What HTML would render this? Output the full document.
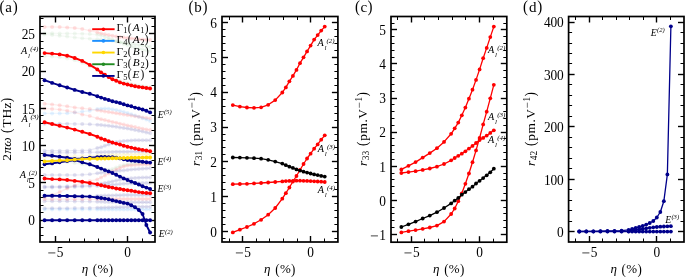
<!DOCTYPE html>
<html><head><meta charset="utf-8"><style>
html,body{margin:0;padding:0;background:#fff;}
body{width:685px;height:277px;overflow:hidden;}
svg{display:block;font-family:"Liberation Serif",serif;}
</style></head><body>
<svg width="685" height="277" viewBox="0 0 685 277">
<rect width="685" height="277" fill="#fff"/>
<polyline points="44.56,26.9 52.1,26.9 59.64,27.1 67.18,27.5 74.72,28 82.26,28.9 89.8,30.6 97.34,32.4 101.11,33.4 104.88,34.3 108.65,35.1 112.42,35.8 116.19,36.4 119.96,37 123.73,37.5 127.5,38 131.27,38.4 135.04,38.8 138.81,39.2 142.58,39.5 146.35,39.8 150.12,40" fill="none" stroke="#ff0000" stroke-width="1.4" stroke-linejoin="round" stroke-opacity="0.07"/>
<circle cx="44.56" cy="26.9" r="2.0" fill="#ff0000" fill-opacity="0.11"/>
<circle cx="52.1" cy="26.9" r="2.0" fill="#ff0000" fill-opacity="0.11"/>
<circle cx="59.64" cy="27.1" r="2.0" fill="#ff0000" fill-opacity="0.11"/>
<circle cx="67.18" cy="27.5" r="2.0" fill="#ff0000" fill-opacity="0.11"/>
<circle cx="74.72" cy="28" r="2.0" fill="#ff0000" fill-opacity="0.11"/>
<circle cx="82.26" cy="28.9" r="2.0" fill="#ff0000" fill-opacity="0.11"/>
<circle cx="89.8" cy="30.6" r="2.0" fill="#ff0000" fill-opacity="0.11"/>
<circle cx="97.34" cy="32.4" r="2.0" fill="#ff0000" fill-opacity="0.11"/>
<circle cx="101.11" cy="33.4" r="2.0" fill="#ff0000" fill-opacity="0.11"/>
<circle cx="104.88" cy="34.3" r="2.0" fill="#ff0000" fill-opacity="0.11"/>
<circle cx="108.65" cy="35.1" r="2.0" fill="#ff0000" fill-opacity="0.11"/>
<circle cx="112.42" cy="35.8" r="2.0" fill="#ff0000" fill-opacity="0.11"/>
<circle cx="116.19" cy="36.4" r="2.0" fill="#ff0000" fill-opacity="0.11"/>
<circle cx="119.96" cy="37" r="2.0" fill="#ff0000" fill-opacity="0.11"/>
<circle cx="123.73" cy="37.5" r="2.0" fill="#ff0000" fill-opacity="0.11"/>
<circle cx="127.5" cy="38" r="2.0" fill="#ff0000" fill-opacity="0.11"/>
<circle cx="131.27" cy="38.4" r="2.0" fill="#ff0000" fill-opacity="0.11"/>
<circle cx="135.04" cy="38.8" r="2.0" fill="#ff0000" fill-opacity="0.11"/>
<circle cx="138.81" cy="39.2" r="2.0" fill="#ff0000" fill-opacity="0.11"/>
<circle cx="142.58" cy="39.5" r="2.0" fill="#ff0000" fill-opacity="0.11"/>
<circle cx="146.35" cy="39.8" r="2.0" fill="#ff0000" fill-opacity="0.11"/>
<circle cx="150.12" cy="40" r="2.0" fill="#ff0000" fill-opacity="0.11"/>
<polyline points="44.56,33.2 52.1,33.3 59.64,33.4 67.18,33.5 74.72,33.6 82.26,33.8 89.8,34.1 97.34,34.8 101.11,35.6 104.88,36.7 108.65,38 112.42,39.5 116.19,41 119.96,42.5 123.73,44 127.5,45.3 131.27,46.5 135.04,47.6 138.81,48.6 142.58,49.5 146.35,50.3 150.12,51" fill="none" stroke="#228b22" stroke-width="1.4" stroke-linejoin="round" stroke-opacity="0.04"/>
<circle cx="44.56" cy="33.2" r="2.0" fill="#228b22" fill-opacity="0.06"/>
<circle cx="52.1" cy="33.3" r="2.0" fill="#228b22" fill-opacity="0.06"/>
<circle cx="59.64" cy="33.4" r="2.0" fill="#228b22" fill-opacity="0.06"/>
<circle cx="67.18" cy="33.5" r="2.0" fill="#228b22" fill-opacity="0.06"/>
<circle cx="74.72" cy="33.6" r="2.0" fill="#228b22" fill-opacity="0.06"/>
<circle cx="82.26" cy="33.8" r="2.0" fill="#228b22" fill-opacity="0.06"/>
<circle cx="89.8" cy="34.1" r="2.0" fill="#228b22" fill-opacity="0.06"/>
<circle cx="97.34" cy="34.8" r="2.0" fill="#228b22" fill-opacity="0.06"/>
<circle cx="101.11" cy="35.6" r="2.0" fill="#228b22" fill-opacity="0.06"/>
<circle cx="104.88" cy="36.7" r="2.0" fill="#228b22" fill-opacity="0.06"/>
<circle cx="108.65" cy="38" r="2.0" fill="#228b22" fill-opacity="0.06"/>
<circle cx="112.42" cy="39.5" r="2.0" fill="#228b22" fill-opacity="0.06"/>
<circle cx="116.19" cy="41" r="2.0" fill="#228b22" fill-opacity="0.06"/>
<circle cx="119.96" cy="42.5" r="2.0" fill="#228b22" fill-opacity="0.06"/>
<circle cx="123.73" cy="44" r="2.0" fill="#228b22" fill-opacity="0.06"/>
<circle cx="127.5" cy="45.3" r="2.0" fill="#228b22" fill-opacity="0.06"/>
<circle cx="131.27" cy="46.5" r="2.0" fill="#228b22" fill-opacity="0.06"/>
<circle cx="135.04" cy="47.6" r="2.0" fill="#228b22" fill-opacity="0.06"/>
<circle cx="138.81" cy="48.6" r="2.0" fill="#228b22" fill-opacity="0.06"/>
<circle cx="142.58" cy="49.5" r="2.0" fill="#228b22" fill-opacity="0.06"/>
<circle cx="146.35" cy="50.3" r="2.0" fill="#228b22" fill-opacity="0.06"/>
<circle cx="150.12" cy="51" r="2.0" fill="#228b22" fill-opacity="0.06"/>
<polyline points="44.56,34.4 52.1,35 59.64,35.8 67.18,36.6 74.72,37.4 82.26,38.2 89.8,38.8 97.34,39.3 101.11,39.6 104.88,39.9 108.65,40.3 112.42,40.8 116.19,41.4 119.96,42 123.73,42.6 127.5,43.2 131.27,43.8 135.04,44.4 138.81,45 142.58,45.6 146.35,46.2 150.12,46.8" fill="none" stroke="#228b22" stroke-width="1.4" stroke-linejoin="round" stroke-opacity="0.04"/>
<circle cx="44.56" cy="34.4" r="2.0" fill="#228b22" fill-opacity="0.06"/>
<circle cx="52.1" cy="35" r="2.0" fill="#228b22" fill-opacity="0.06"/>
<circle cx="59.64" cy="35.8" r="2.0" fill="#228b22" fill-opacity="0.06"/>
<circle cx="67.18" cy="36.6" r="2.0" fill="#228b22" fill-opacity="0.06"/>
<circle cx="74.72" cy="37.4" r="2.0" fill="#228b22" fill-opacity="0.06"/>
<circle cx="82.26" cy="38.2" r="2.0" fill="#228b22" fill-opacity="0.06"/>
<circle cx="89.8" cy="38.8" r="2.0" fill="#228b22" fill-opacity="0.06"/>
<circle cx="97.34" cy="39.3" r="2.0" fill="#228b22" fill-opacity="0.06"/>
<circle cx="101.11" cy="39.6" r="2.0" fill="#228b22" fill-opacity="0.06"/>
<circle cx="104.88" cy="39.9" r="2.0" fill="#228b22" fill-opacity="0.06"/>
<circle cx="108.65" cy="40.3" r="2.0" fill="#228b22" fill-opacity="0.06"/>
<circle cx="112.42" cy="40.8" r="2.0" fill="#228b22" fill-opacity="0.06"/>
<circle cx="116.19" cy="41.4" r="2.0" fill="#228b22" fill-opacity="0.06"/>
<circle cx="119.96" cy="42" r="2.0" fill="#228b22" fill-opacity="0.06"/>
<circle cx="123.73" cy="42.6" r="2.0" fill="#228b22" fill-opacity="0.06"/>
<circle cx="127.5" cy="43.2" r="2.0" fill="#228b22" fill-opacity="0.06"/>
<circle cx="131.27" cy="43.8" r="2.0" fill="#228b22" fill-opacity="0.06"/>
<circle cx="135.04" cy="44.4" r="2.0" fill="#228b22" fill-opacity="0.06"/>
<circle cx="138.81" cy="45" r="2.0" fill="#228b22" fill-opacity="0.06"/>
<circle cx="142.58" cy="45.6" r="2.0" fill="#228b22" fill-opacity="0.06"/>
<circle cx="146.35" cy="46.2" r="2.0" fill="#228b22" fill-opacity="0.06"/>
<circle cx="150.12" cy="46.8" r="2.0" fill="#228b22" fill-opacity="0.06"/>
<polyline points="44.56,56.1 52.1,56.6 59.64,57.3 67.18,58.4 74.72,60.3 82.26,63 89.8,66.5 97.34,70.5 101.11,72.8 104.88,74.8 108.65,76.6 112.42,78.2 116.19,79.6 119.96,80.9 123.73,82 127.5,83 131.27,83.9 135.04,84.7 138.81,85.4 142.58,86 146.35,86.6 150.12,87.1" fill="none" stroke="#228b22" stroke-width="1.4" stroke-linejoin="round" stroke-opacity="0.04"/>
<circle cx="44.56" cy="56.1" r="2.0" fill="#228b22" fill-opacity="0.06"/>
<circle cx="52.1" cy="56.6" r="2.0" fill="#228b22" fill-opacity="0.06"/>
<circle cx="59.64" cy="57.3" r="2.0" fill="#228b22" fill-opacity="0.06"/>
<circle cx="67.18" cy="58.4" r="2.0" fill="#228b22" fill-opacity="0.06"/>
<circle cx="74.72" cy="60.3" r="2.0" fill="#228b22" fill-opacity="0.06"/>
<circle cx="82.26" cy="63" r="2.0" fill="#228b22" fill-opacity="0.06"/>
<circle cx="89.8" cy="66.5" r="2.0" fill="#228b22" fill-opacity="0.06"/>
<circle cx="97.34" cy="70.5" r="2.0" fill="#228b22" fill-opacity="0.06"/>
<circle cx="101.11" cy="72.8" r="2.0" fill="#228b22" fill-opacity="0.06"/>
<circle cx="104.88" cy="74.8" r="2.0" fill="#228b22" fill-opacity="0.06"/>
<circle cx="108.65" cy="76.6" r="2.0" fill="#228b22" fill-opacity="0.06"/>
<circle cx="112.42" cy="78.2" r="2.0" fill="#228b22" fill-opacity="0.06"/>
<circle cx="116.19" cy="79.6" r="2.0" fill="#228b22" fill-opacity="0.06"/>
<circle cx="119.96" cy="80.9" r="2.0" fill="#228b22" fill-opacity="0.06"/>
<circle cx="123.73" cy="82" r="2.0" fill="#228b22" fill-opacity="0.06"/>
<circle cx="127.5" cy="83" r="2.0" fill="#228b22" fill-opacity="0.06"/>
<circle cx="131.27" cy="83.9" r="2.0" fill="#228b22" fill-opacity="0.06"/>
<circle cx="135.04" cy="84.7" r="2.0" fill="#228b22" fill-opacity="0.06"/>
<circle cx="138.81" cy="85.4" r="2.0" fill="#228b22" fill-opacity="0.06"/>
<circle cx="142.58" cy="86" r="2.0" fill="#228b22" fill-opacity="0.06"/>
<circle cx="146.35" cy="86.6" r="2.0" fill="#228b22" fill-opacity="0.06"/>
<circle cx="150.12" cy="87.1" r="2.0" fill="#228b22" fill-opacity="0.06"/>
<polyline points="44.56,103.7 52.1,104.4 59.64,105.3 67.18,106.3 74.72,107.5 82.26,108.3 89.8,109.1 97.34,110.2 101.11,110.8 104.88,111.4 108.65,112 112.42,112.6 116.19,113.2 119.96,113.8 123.73,114.4 127.5,115 131.27,115.6 135.04,116.2 138.81,116.8 142.58,117.4 146.35,118 150.12,118.6" fill="none" stroke="#ff0000" stroke-width="1.4" stroke-linejoin="round" stroke-opacity="0.07"/>
<circle cx="44.56" cy="103.7" r="2.0" fill="#ff0000" fill-opacity="0.11"/>
<circle cx="52.1" cy="104.4" r="2.0" fill="#ff0000" fill-opacity="0.11"/>
<circle cx="59.64" cy="105.3" r="2.0" fill="#ff0000" fill-opacity="0.11"/>
<circle cx="67.18" cy="106.3" r="2.0" fill="#ff0000" fill-opacity="0.11"/>
<circle cx="74.72" cy="107.5" r="2.0" fill="#ff0000" fill-opacity="0.11"/>
<circle cx="82.26" cy="108.3" r="2.0" fill="#ff0000" fill-opacity="0.11"/>
<circle cx="89.8" cy="109.1" r="2.0" fill="#ff0000" fill-opacity="0.11"/>
<circle cx="97.34" cy="110.2" r="2.0" fill="#ff0000" fill-opacity="0.11"/>
<circle cx="101.11" cy="110.8" r="2.0" fill="#ff0000" fill-opacity="0.11"/>
<circle cx="104.88" cy="111.4" r="2.0" fill="#ff0000" fill-opacity="0.11"/>
<circle cx="108.65" cy="112" r="2.0" fill="#ff0000" fill-opacity="0.11"/>
<circle cx="112.42" cy="112.6" r="2.0" fill="#ff0000" fill-opacity="0.11"/>
<circle cx="116.19" cy="113.2" r="2.0" fill="#ff0000" fill-opacity="0.11"/>
<circle cx="119.96" cy="113.8" r="2.0" fill="#ff0000" fill-opacity="0.11"/>
<circle cx="123.73" cy="114.4" r="2.0" fill="#ff0000" fill-opacity="0.11"/>
<circle cx="127.5" cy="115" r="2.0" fill="#ff0000" fill-opacity="0.11"/>
<circle cx="131.27" cy="115.6" r="2.0" fill="#ff0000" fill-opacity="0.11"/>
<circle cx="135.04" cy="116.2" r="2.0" fill="#ff0000" fill-opacity="0.11"/>
<circle cx="138.81" cy="116.8" r="2.0" fill="#ff0000" fill-opacity="0.11"/>
<circle cx="142.58" cy="117.4" r="2.0" fill="#ff0000" fill-opacity="0.11"/>
<circle cx="146.35" cy="118" r="2.0" fill="#ff0000" fill-opacity="0.11"/>
<circle cx="150.12" cy="118.6" r="2.0" fill="#ff0000" fill-opacity="0.11"/>
<polyline points="44.56,108.5 52.1,108.9 59.64,109.6 67.18,110.8 74.72,112.3 82.26,114.5 89.8,116.1 97.34,118.3 101.11,119.2 104.88,120.1 108.65,121 112.42,121.9 116.19,122.8 119.96,123.7 123.73,124.6 127.5,125.5 131.27,126.3 135.04,127.1 138.81,127.9 142.58,128.7 146.35,129.4 150.12,130.1" fill="none" stroke="#ff0000" stroke-width="1.4" stroke-linejoin="round" stroke-opacity="0.07"/>
<circle cx="44.56" cy="108.5" r="2.0" fill="#ff0000" fill-opacity="0.11"/>
<circle cx="52.1" cy="108.9" r="2.0" fill="#ff0000" fill-opacity="0.11"/>
<circle cx="59.64" cy="109.6" r="2.0" fill="#ff0000" fill-opacity="0.11"/>
<circle cx="67.18" cy="110.8" r="2.0" fill="#ff0000" fill-opacity="0.11"/>
<circle cx="74.72" cy="112.3" r="2.0" fill="#ff0000" fill-opacity="0.11"/>
<circle cx="82.26" cy="114.5" r="2.0" fill="#ff0000" fill-opacity="0.11"/>
<circle cx="89.8" cy="116.1" r="2.0" fill="#ff0000" fill-opacity="0.11"/>
<circle cx="97.34" cy="118.3" r="2.0" fill="#ff0000" fill-opacity="0.11"/>
<circle cx="101.11" cy="119.2" r="2.0" fill="#ff0000" fill-opacity="0.11"/>
<circle cx="104.88" cy="120.1" r="2.0" fill="#ff0000" fill-opacity="0.11"/>
<circle cx="108.65" cy="121" r="2.0" fill="#ff0000" fill-opacity="0.11"/>
<circle cx="112.42" cy="121.9" r="2.0" fill="#ff0000" fill-opacity="0.11"/>
<circle cx="116.19" cy="122.8" r="2.0" fill="#ff0000" fill-opacity="0.11"/>
<circle cx="119.96" cy="123.7" r="2.0" fill="#ff0000" fill-opacity="0.11"/>
<circle cx="123.73" cy="124.6" r="2.0" fill="#ff0000" fill-opacity="0.11"/>
<circle cx="127.5" cy="125.5" r="2.0" fill="#ff0000" fill-opacity="0.11"/>
<circle cx="131.27" cy="126.3" r="2.0" fill="#ff0000" fill-opacity="0.11"/>
<circle cx="135.04" cy="127.1" r="2.0" fill="#ff0000" fill-opacity="0.11"/>
<circle cx="138.81" cy="127.9" r="2.0" fill="#ff0000" fill-opacity="0.11"/>
<circle cx="142.58" cy="128.7" r="2.0" fill="#ff0000" fill-opacity="0.11"/>
<circle cx="146.35" cy="129.4" r="2.0" fill="#ff0000" fill-opacity="0.11"/>
<circle cx="150.12" cy="130.1" r="2.0" fill="#ff0000" fill-opacity="0.11"/>
<polyline points="44.56,113.4 52.1,113.4 59.64,113.4 67.18,113.2 74.72,112.6 82.26,111.6 89.8,110.7 97.34,109.1 101.11,108.7 104.88,108.6 108.65,108.8 112.42,109.3 116.19,110 119.96,110.9 123.73,111.9 127.5,113 131.27,114.2 135.04,115.5 138.81,116.8 142.58,118.2 146.35,119.6 150.12,121" fill="none" stroke="#1e90ff" stroke-width="1.4" stroke-linejoin="round" stroke-opacity="0.07"/>
<circle cx="44.56" cy="113.4" r="2.0" fill="#1e90ff" fill-opacity="0.11"/>
<circle cx="52.1" cy="113.4" r="2.0" fill="#1e90ff" fill-opacity="0.11"/>
<circle cx="59.64" cy="113.4" r="2.0" fill="#1e90ff" fill-opacity="0.11"/>
<circle cx="67.18" cy="113.2" r="2.0" fill="#1e90ff" fill-opacity="0.11"/>
<circle cx="74.72" cy="112.6" r="2.0" fill="#1e90ff" fill-opacity="0.11"/>
<circle cx="82.26" cy="111.6" r="2.0" fill="#1e90ff" fill-opacity="0.11"/>
<circle cx="89.8" cy="110.7" r="2.0" fill="#1e90ff" fill-opacity="0.11"/>
<circle cx="97.34" cy="109.1" r="2.0" fill="#1e90ff" fill-opacity="0.11"/>
<circle cx="101.11" cy="108.7" r="2.0" fill="#1e90ff" fill-opacity="0.11"/>
<circle cx="104.88" cy="108.6" r="2.0" fill="#1e90ff" fill-opacity="0.11"/>
<circle cx="108.65" cy="108.8" r="2.0" fill="#1e90ff" fill-opacity="0.11"/>
<circle cx="112.42" cy="109.3" r="2.0" fill="#1e90ff" fill-opacity="0.11"/>
<circle cx="116.19" cy="110" r="2.0" fill="#1e90ff" fill-opacity="0.11"/>
<circle cx="119.96" cy="110.9" r="2.0" fill="#1e90ff" fill-opacity="0.11"/>
<circle cx="123.73" cy="111.9" r="2.0" fill="#1e90ff" fill-opacity="0.11"/>
<circle cx="127.5" cy="113" r="2.0" fill="#1e90ff" fill-opacity="0.11"/>
<circle cx="131.27" cy="114.2" r="2.0" fill="#1e90ff" fill-opacity="0.11"/>
<circle cx="135.04" cy="115.5" r="2.0" fill="#1e90ff" fill-opacity="0.11"/>
<circle cx="138.81" cy="116.8" r="2.0" fill="#1e90ff" fill-opacity="0.11"/>
<circle cx="142.58" cy="118.2" r="2.0" fill="#1e90ff" fill-opacity="0.11"/>
<circle cx="146.35" cy="119.6" r="2.0" fill="#1e90ff" fill-opacity="0.11"/>
<circle cx="150.12" cy="121" r="2.0" fill="#1e90ff" fill-opacity="0.11"/>
<polyline points="44.56,123.7 52.1,123.7 59.64,123.7 67.18,123.8 74.72,123.9 82.26,124.1 89.8,124.3 97.34,124.7 101.11,125 104.88,125.4 108.65,125.8 112.42,126.3 116.19,126.8 119.96,127.4 123.73,128 127.5,128.6 131.27,129.3 135.04,130 138.81,130.8 142.58,131.6 146.35,132.4 150.12,133.2" fill="none" stroke="#00008b" stroke-width="1.4" stroke-linejoin="round" stroke-opacity="0.07"/>
<circle cx="44.56" cy="123.7" r="2.0" fill="#00008b" fill-opacity="0.11"/>
<circle cx="52.1" cy="123.7" r="2.0" fill="#00008b" fill-opacity="0.11"/>
<circle cx="59.64" cy="123.7" r="2.0" fill="#00008b" fill-opacity="0.11"/>
<circle cx="67.18" cy="123.8" r="2.0" fill="#00008b" fill-opacity="0.11"/>
<circle cx="74.72" cy="123.9" r="2.0" fill="#00008b" fill-opacity="0.11"/>
<circle cx="82.26" cy="124.1" r="2.0" fill="#00008b" fill-opacity="0.11"/>
<circle cx="89.8" cy="124.3" r="2.0" fill="#00008b" fill-opacity="0.11"/>
<circle cx="97.34" cy="124.7" r="2.0" fill="#00008b" fill-opacity="0.11"/>
<circle cx="101.11" cy="125" r="2.0" fill="#00008b" fill-opacity="0.11"/>
<circle cx="104.88" cy="125.4" r="2.0" fill="#00008b" fill-opacity="0.11"/>
<circle cx="108.65" cy="125.8" r="2.0" fill="#00008b" fill-opacity="0.11"/>
<circle cx="112.42" cy="126.3" r="2.0" fill="#00008b" fill-opacity="0.11"/>
<circle cx="116.19" cy="126.8" r="2.0" fill="#00008b" fill-opacity="0.11"/>
<circle cx="119.96" cy="127.4" r="2.0" fill="#00008b" fill-opacity="0.11"/>
<circle cx="123.73" cy="128" r="2.0" fill="#00008b" fill-opacity="0.11"/>
<circle cx="127.5" cy="128.6" r="2.0" fill="#00008b" fill-opacity="0.11"/>
<circle cx="131.27" cy="129.3" r="2.0" fill="#00008b" fill-opacity="0.11"/>
<circle cx="135.04" cy="130" r="2.0" fill="#00008b" fill-opacity="0.11"/>
<circle cx="138.81" cy="130.8" r="2.0" fill="#00008b" fill-opacity="0.11"/>
<circle cx="142.58" cy="131.6" r="2.0" fill="#00008b" fill-opacity="0.11"/>
<circle cx="146.35" cy="132.4" r="2.0" fill="#00008b" fill-opacity="0.11"/>
<circle cx="150.12" cy="133.2" r="2.0" fill="#00008b" fill-opacity="0.11"/>
<polyline points="44.56,150.7 52.1,150.7 59.64,150.7 67.18,150.7 74.72,150.6 82.26,150.5 89.8,150.2 97.34,148 101.11,147.2 104.88,145.8 108.65,144.5 112.42,143.2 116.19,142 119.96,141.4 123.73,141 127.5,140.7 131.27,140.5 135.04,140.3 138.81,140.2 142.58,140.2 146.35,140.2 150.12,140.2" fill="none" stroke="#00008b" stroke-width="1.4" stroke-linejoin="round" stroke-opacity="0.07"/>
<circle cx="44.56" cy="150.7" r="2.0" fill="#00008b" fill-opacity="0.11"/>
<circle cx="52.1" cy="150.7" r="2.0" fill="#00008b" fill-opacity="0.11"/>
<circle cx="59.64" cy="150.7" r="2.0" fill="#00008b" fill-opacity="0.11"/>
<circle cx="67.18" cy="150.7" r="2.0" fill="#00008b" fill-opacity="0.11"/>
<circle cx="74.72" cy="150.6" r="2.0" fill="#00008b" fill-opacity="0.11"/>
<circle cx="82.26" cy="150.5" r="2.0" fill="#00008b" fill-opacity="0.11"/>
<circle cx="89.8" cy="150.2" r="2.0" fill="#00008b" fill-opacity="0.11"/>
<circle cx="97.34" cy="148" r="2.0" fill="#00008b" fill-opacity="0.11"/>
<circle cx="101.11" cy="147.2" r="2.0" fill="#00008b" fill-opacity="0.11"/>
<circle cx="104.88" cy="145.8" r="2.0" fill="#00008b" fill-opacity="0.11"/>
<circle cx="108.65" cy="144.5" r="2.0" fill="#00008b" fill-opacity="0.11"/>
<circle cx="112.42" cy="143.2" r="2.0" fill="#00008b" fill-opacity="0.11"/>
<circle cx="116.19" cy="142" r="2.0" fill="#00008b" fill-opacity="0.11"/>
<circle cx="119.96" cy="141.4" r="2.0" fill="#00008b" fill-opacity="0.11"/>
<circle cx="123.73" cy="141" r="2.0" fill="#00008b" fill-opacity="0.11"/>
<circle cx="127.5" cy="140.7" r="2.0" fill="#00008b" fill-opacity="0.11"/>
<circle cx="131.27" cy="140.5" r="2.0" fill="#00008b" fill-opacity="0.11"/>
<circle cx="135.04" cy="140.3" r="2.0" fill="#00008b" fill-opacity="0.11"/>
<circle cx="138.81" cy="140.2" r="2.0" fill="#00008b" fill-opacity="0.11"/>
<circle cx="142.58" cy="140.2" r="2.0" fill="#00008b" fill-opacity="0.11"/>
<circle cx="146.35" cy="140.2" r="2.0" fill="#00008b" fill-opacity="0.11"/>
<circle cx="150.12" cy="140.2" r="2.0" fill="#00008b" fill-opacity="0.11"/>
<polyline points="44.56,152.9 52.1,152.9 59.64,152.8 67.18,152.7 74.72,152.6 82.26,152.5 89.8,152.4 97.34,152.3 101.11,152.2 104.88,152.1 108.65,152 112.42,151.9 116.19,151.8 119.96,151.8 123.73,151.7 127.5,151.7 131.27,151.6 135.04,151.6 138.81,151.5 142.58,151.5 146.35,151.5 150.12,151.5" fill="none" stroke="#00008b" stroke-width="1.4" stroke-linejoin="round" stroke-opacity="0.07"/>
<circle cx="44.56" cy="152.9" r="2.0" fill="#00008b" fill-opacity="0.11"/>
<circle cx="52.1" cy="152.9" r="2.0" fill="#00008b" fill-opacity="0.11"/>
<circle cx="59.64" cy="152.8" r="2.0" fill="#00008b" fill-opacity="0.11"/>
<circle cx="67.18" cy="152.7" r="2.0" fill="#00008b" fill-opacity="0.11"/>
<circle cx="74.72" cy="152.6" r="2.0" fill="#00008b" fill-opacity="0.11"/>
<circle cx="82.26" cy="152.5" r="2.0" fill="#00008b" fill-opacity="0.11"/>
<circle cx="89.8" cy="152.4" r="2.0" fill="#00008b" fill-opacity="0.11"/>
<circle cx="97.34" cy="152.3" r="2.0" fill="#00008b" fill-opacity="0.11"/>
<circle cx="101.11" cy="152.2" r="2.0" fill="#00008b" fill-opacity="0.11"/>
<circle cx="104.88" cy="152.1" r="2.0" fill="#00008b" fill-opacity="0.11"/>
<circle cx="108.65" cy="152" r="2.0" fill="#00008b" fill-opacity="0.11"/>
<circle cx="112.42" cy="151.9" r="2.0" fill="#00008b" fill-opacity="0.11"/>
<circle cx="116.19" cy="151.8" r="2.0" fill="#00008b" fill-opacity="0.11"/>
<circle cx="119.96" cy="151.8" r="2.0" fill="#00008b" fill-opacity="0.11"/>
<circle cx="123.73" cy="151.7" r="2.0" fill="#00008b" fill-opacity="0.11"/>
<circle cx="127.5" cy="151.7" r="2.0" fill="#00008b" fill-opacity="0.11"/>
<circle cx="131.27" cy="151.6" r="2.0" fill="#00008b" fill-opacity="0.11"/>
<circle cx="135.04" cy="151.6" r="2.0" fill="#00008b" fill-opacity="0.11"/>
<circle cx="138.81" cy="151.5" r="2.0" fill="#00008b" fill-opacity="0.11"/>
<circle cx="142.58" cy="151.5" r="2.0" fill="#00008b" fill-opacity="0.11"/>
<circle cx="146.35" cy="151.5" r="2.0" fill="#00008b" fill-opacity="0.11"/>
<circle cx="150.12" cy="151.5" r="2.0" fill="#00008b" fill-opacity="0.11"/>
<polyline points="44.56,157 52.1,156.8 59.64,156.6 67.18,156.4 74.72,156.2 82.26,156 89.8,155.8 97.34,155.6 101.11,155.5 104.88,155.4 108.65,155.3 112.42,155.1 116.19,155 119.96,154.9 123.73,154.8 127.5,154.6 131.27,154.5 135.04,154.4 138.81,154.3 142.58,154.2 146.35,154.2 150.12,154.2" fill="none" stroke="#ffd700" stroke-width="1.4" stroke-linejoin="round" stroke-opacity="0.07"/>
<circle cx="44.56" cy="157" r="2.0" fill="#ffd700" fill-opacity="0.11"/>
<circle cx="52.1" cy="156.8" r="2.0" fill="#ffd700" fill-opacity="0.11"/>
<circle cx="59.64" cy="156.6" r="2.0" fill="#ffd700" fill-opacity="0.11"/>
<circle cx="67.18" cy="156.4" r="2.0" fill="#ffd700" fill-opacity="0.11"/>
<circle cx="74.72" cy="156.2" r="2.0" fill="#ffd700" fill-opacity="0.11"/>
<circle cx="82.26" cy="156" r="2.0" fill="#ffd700" fill-opacity="0.11"/>
<circle cx="89.8" cy="155.8" r="2.0" fill="#ffd700" fill-opacity="0.11"/>
<circle cx="97.34" cy="155.6" r="2.0" fill="#ffd700" fill-opacity="0.11"/>
<circle cx="101.11" cy="155.5" r="2.0" fill="#ffd700" fill-opacity="0.11"/>
<circle cx="104.88" cy="155.4" r="2.0" fill="#ffd700" fill-opacity="0.11"/>
<circle cx="108.65" cy="155.3" r="2.0" fill="#ffd700" fill-opacity="0.11"/>
<circle cx="112.42" cy="155.1" r="2.0" fill="#ffd700" fill-opacity="0.11"/>
<circle cx="116.19" cy="155" r="2.0" fill="#ffd700" fill-opacity="0.11"/>
<circle cx="119.96" cy="154.9" r="2.0" fill="#ffd700" fill-opacity="0.11"/>
<circle cx="123.73" cy="154.8" r="2.0" fill="#ffd700" fill-opacity="0.11"/>
<circle cx="127.5" cy="154.6" r="2.0" fill="#ffd700" fill-opacity="0.11"/>
<circle cx="131.27" cy="154.5" r="2.0" fill="#ffd700" fill-opacity="0.11"/>
<circle cx="135.04" cy="154.4" r="2.0" fill="#ffd700" fill-opacity="0.11"/>
<circle cx="138.81" cy="154.3" r="2.0" fill="#ffd700" fill-opacity="0.11"/>
<circle cx="142.58" cy="154.2" r="2.0" fill="#ffd700" fill-opacity="0.11"/>
<circle cx="146.35" cy="154.2" r="2.0" fill="#ffd700" fill-opacity="0.11"/>
<circle cx="150.12" cy="154.2" r="2.0" fill="#ffd700" fill-opacity="0.11"/>
<polyline points="44.56,161 52.1,161.2 59.64,161.6 67.18,162.2 74.72,163 82.26,164.2 89.8,165.5 97.34,167 101.11,168.5 104.88,169.5 108.65,169.8 112.42,169 116.19,167.5 119.96,166 123.73,165 127.5,164.3 131.27,163.8 135.04,163.4 138.81,163.2 142.58,163 146.35,162.9 150.12,162.9" fill="none" stroke="#228b22" stroke-width="1.4" stroke-linejoin="round" stroke-opacity="0.04"/>
<circle cx="44.56" cy="161" r="2.0" fill="#228b22" fill-opacity="0.06"/>
<circle cx="52.1" cy="161.2" r="2.0" fill="#228b22" fill-opacity="0.06"/>
<circle cx="59.64" cy="161.6" r="2.0" fill="#228b22" fill-opacity="0.06"/>
<circle cx="67.18" cy="162.2" r="2.0" fill="#228b22" fill-opacity="0.06"/>
<circle cx="74.72" cy="163" r="2.0" fill="#228b22" fill-opacity="0.06"/>
<circle cx="82.26" cy="164.2" r="2.0" fill="#228b22" fill-opacity="0.06"/>
<circle cx="89.8" cy="165.5" r="2.0" fill="#228b22" fill-opacity="0.06"/>
<circle cx="97.34" cy="167" r="2.0" fill="#228b22" fill-opacity="0.06"/>
<circle cx="101.11" cy="168.5" r="2.0" fill="#228b22" fill-opacity="0.06"/>
<circle cx="104.88" cy="169.5" r="2.0" fill="#228b22" fill-opacity="0.06"/>
<circle cx="108.65" cy="169.8" r="2.0" fill="#228b22" fill-opacity="0.06"/>
<circle cx="112.42" cy="169" r="2.0" fill="#228b22" fill-opacity="0.06"/>
<circle cx="116.19" cy="167.5" r="2.0" fill="#228b22" fill-opacity="0.06"/>
<circle cx="119.96" cy="166" r="2.0" fill="#228b22" fill-opacity="0.06"/>
<circle cx="123.73" cy="165" r="2.0" fill="#228b22" fill-opacity="0.06"/>
<circle cx="127.5" cy="164.3" r="2.0" fill="#228b22" fill-opacity="0.06"/>
<circle cx="131.27" cy="163.8" r="2.0" fill="#228b22" fill-opacity="0.06"/>
<circle cx="135.04" cy="163.4" r="2.0" fill="#228b22" fill-opacity="0.06"/>
<circle cx="138.81" cy="163.2" r="2.0" fill="#228b22" fill-opacity="0.06"/>
<circle cx="142.58" cy="163" r="2.0" fill="#228b22" fill-opacity="0.06"/>
<circle cx="146.35" cy="162.9" r="2.0" fill="#228b22" fill-opacity="0.06"/>
<circle cx="150.12" cy="162.9" r="2.0" fill="#228b22" fill-opacity="0.06"/>
<polyline points="44.56,197 52.1,195 59.64,192 67.18,188.5 74.72,185.3 82.26,183 89.8,181 97.34,179.5 101.11,177.5 104.88,175.5 108.65,173.5 112.42,171.5 116.19,169.5 119.96,168 123.73,166.5 127.5,165.6 131.27,165.2 135.04,164.9 138.81,164.7 142.58,164.6 146.35,164.5 150.12,164.5" fill="none" stroke="#ff0000" stroke-width="1.4" stroke-linejoin="round" stroke-opacity="0.07"/>
<circle cx="44.56" cy="197" r="2.0" fill="#ff0000" fill-opacity="0.11"/>
<circle cx="52.1" cy="195" r="2.0" fill="#ff0000" fill-opacity="0.11"/>
<circle cx="59.64" cy="192" r="2.0" fill="#ff0000" fill-opacity="0.11"/>
<circle cx="67.18" cy="188.5" r="2.0" fill="#ff0000" fill-opacity="0.11"/>
<circle cx="74.72" cy="185.3" r="2.0" fill="#ff0000" fill-opacity="0.11"/>
<circle cx="82.26" cy="183" r="2.0" fill="#ff0000" fill-opacity="0.11"/>
<circle cx="89.8" cy="181" r="2.0" fill="#ff0000" fill-opacity="0.11"/>
<circle cx="97.34" cy="179.5" r="2.0" fill="#ff0000" fill-opacity="0.11"/>
<circle cx="101.11" cy="177.5" r="2.0" fill="#ff0000" fill-opacity="0.11"/>
<circle cx="104.88" cy="175.5" r="2.0" fill="#ff0000" fill-opacity="0.11"/>
<circle cx="108.65" cy="173.5" r="2.0" fill="#ff0000" fill-opacity="0.11"/>
<circle cx="112.42" cy="171.5" r="2.0" fill="#ff0000" fill-opacity="0.11"/>
<circle cx="116.19" cy="169.5" r="2.0" fill="#ff0000" fill-opacity="0.11"/>
<circle cx="119.96" cy="168" r="2.0" fill="#ff0000" fill-opacity="0.11"/>
<circle cx="123.73" cy="166.5" r="2.0" fill="#ff0000" fill-opacity="0.11"/>
<circle cx="127.5" cy="165.6" r="2.0" fill="#ff0000" fill-opacity="0.11"/>
<circle cx="131.27" cy="165.2" r="2.0" fill="#ff0000" fill-opacity="0.11"/>
<circle cx="135.04" cy="164.9" r="2.0" fill="#ff0000" fill-opacity="0.11"/>
<circle cx="138.81" cy="164.7" r="2.0" fill="#ff0000" fill-opacity="0.11"/>
<circle cx="142.58" cy="164.6" r="2.0" fill="#ff0000" fill-opacity="0.11"/>
<circle cx="146.35" cy="164.5" r="2.0" fill="#ff0000" fill-opacity="0.11"/>
<circle cx="150.12" cy="164.5" r="2.0" fill="#ff0000" fill-opacity="0.11"/>
<polyline points="44.56,175 52.1,175 59.64,175 67.18,175 74.72,175 82.26,174.8 89.8,174.2 97.34,173.2 101.11,172.8 104.88,172.4 108.65,172 112.42,171.6 116.19,171.2 119.96,170.8 123.73,170.4 127.5,170 131.27,169.6 135.04,169.3 138.81,169 142.58,168.7 146.35,168.5 150.12,168.3" fill="none" stroke="#00008b" stroke-width="1.4" stroke-linejoin="round" stroke-opacity="0.07"/>
<circle cx="44.56" cy="175" r="2.0" fill="#00008b" fill-opacity="0.11"/>
<circle cx="52.1" cy="175" r="2.0" fill="#00008b" fill-opacity="0.11"/>
<circle cx="59.64" cy="175" r="2.0" fill="#00008b" fill-opacity="0.11"/>
<circle cx="67.18" cy="175" r="2.0" fill="#00008b" fill-opacity="0.11"/>
<circle cx="74.72" cy="175" r="2.0" fill="#00008b" fill-opacity="0.11"/>
<circle cx="82.26" cy="174.8" r="2.0" fill="#00008b" fill-opacity="0.11"/>
<circle cx="89.8" cy="174.2" r="2.0" fill="#00008b" fill-opacity="0.11"/>
<circle cx="97.34" cy="173.2" r="2.0" fill="#00008b" fill-opacity="0.11"/>
<circle cx="101.11" cy="172.8" r="2.0" fill="#00008b" fill-opacity="0.11"/>
<circle cx="104.88" cy="172.4" r="2.0" fill="#00008b" fill-opacity="0.11"/>
<circle cx="108.65" cy="172" r="2.0" fill="#00008b" fill-opacity="0.11"/>
<circle cx="112.42" cy="171.6" r="2.0" fill="#00008b" fill-opacity="0.11"/>
<circle cx="116.19" cy="171.2" r="2.0" fill="#00008b" fill-opacity="0.11"/>
<circle cx="119.96" cy="170.8" r="2.0" fill="#00008b" fill-opacity="0.11"/>
<circle cx="123.73" cy="170.4" r="2.0" fill="#00008b" fill-opacity="0.11"/>
<circle cx="127.5" cy="170" r="2.0" fill="#00008b" fill-opacity="0.11"/>
<circle cx="131.27" cy="169.6" r="2.0" fill="#00008b" fill-opacity="0.11"/>
<circle cx="135.04" cy="169.3" r="2.0" fill="#00008b" fill-opacity="0.11"/>
<circle cx="138.81" cy="169" r="2.0" fill="#00008b" fill-opacity="0.11"/>
<circle cx="142.58" cy="168.7" r="2.0" fill="#00008b" fill-opacity="0.11"/>
<circle cx="146.35" cy="168.5" r="2.0" fill="#00008b" fill-opacity="0.11"/>
<circle cx="150.12" cy="168.3" r="2.0" fill="#00008b" fill-opacity="0.11"/>
<polyline points="44.56,186.5 52.1,186.5 59.64,186.4 67.18,186.3 74.72,186.1 82.26,185.8 89.8,185.3 97.34,184.5 101.11,183.8 104.88,183 108.65,182.2 112.42,181.4 116.19,180.6 119.96,179.8 123.73,179.2 127.5,178.6 131.27,178.2 135.04,177.9 138.81,177.7 142.58,177.6 146.35,177.5 150.12,177.5" fill="none" stroke="#00008b" stroke-width="1.4" stroke-linejoin="round" stroke-opacity="0.07"/>
<circle cx="44.56" cy="186.5" r="2.0" fill="#00008b" fill-opacity="0.11"/>
<circle cx="52.1" cy="186.5" r="2.0" fill="#00008b" fill-opacity="0.11"/>
<circle cx="59.64" cy="186.4" r="2.0" fill="#00008b" fill-opacity="0.11"/>
<circle cx="67.18" cy="186.3" r="2.0" fill="#00008b" fill-opacity="0.11"/>
<circle cx="74.72" cy="186.1" r="2.0" fill="#00008b" fill-opacity="0.11"/>
<circle cx="82.26" cy="185.8" r="2.0" fill="#00008b" fill-opacity="0.11"/>
<circle cx="89.8" cy="185.3" r="2.0" fill="#00008b" fill-opacity="0.11"/>
<circle cx="97.34" cy="184.5" r="2.0" fill="#00008b" fill-opacity="0.11"/>
<circle cx="101.11" cy="183.8" r="2.0" fill="#00008b" fill-opacity="0.11"/>
<circle cx="104.88" cy="183" r="2.0" fill="#00008b" fill-opacity="0.11"/>
<circle cx="108.65" cy="182.2" r="2.0" fill="#00008b" fill-opacity="0.11"/>
<circle cx="112.42" cy="181.4" r="2.0" fill="#00008b" fill-opacity="0.11"/>
<circle cx="116.19" cy="180.6" r="2.0" fill="#00008b" fill-opacity="0.11"/>
<circle cx="119.96" cy="179.8" r="2.0" fill="#00008b" fill-opacity="0.11"/>
<circle cx="123.73" cy="179.2" r="2.0" fill="#00008b" fill-opacity="0.11"/>
<circle cx="127.5" cy="178.6" r="2.0" fill="#00008b" fill-opacity="0.11"/>
<circle cx="131.27" cy="178.2" r="2.0" fill="#00008b" fill-opacity="0.11"/>
<circle cx="135.04" cy="177.9" r="2.0" fill="#00008b" fill-opacity="0.11"/>
<circle cx="138.81" cy="177.7" r="2.0" fill="#00008b" fill-opacity="0.11"/>
<circle cx="142.58" cy="177.6" r="2.0" fill="#00008b" fill-opacity="0.11"/>
<circle cx="146.35" cy="177.5" r="2.0" fill="#00008b" fill-opacity="0.11"/>
<circle cx="150.12" cy="177.5" r="2.0" fill="#00008b" fill-opacity="0.11"/>
<polyline points="44.56,187.5 52.1,187.5 59.64,187.4 67.18,187.3 74.72,187.1 82.26,186.8 89.8,186.4 97.34,185.9 101.11,185.6 104.88,185.3 108.65,185 112.42,184.7 116.19,184.4 119.96,184.1 123.73,183.8 127.5,183.6 131.27,183.4 135.04,183.3 138.81,183.2 142.58,183.1 146.35,183 150.12,183" fill="none" stroke="#00008b" stroke-width="1.4" stroke-linejoin="round" stroke-opacity="0.07"/>
<circle cx="44.56" cy="187.5" r="2.0" fill="#00008b" fill-opacity="0.11"/>
<circle cx="52.1" cy="187.5" r="2.0" fill="#00008b" fill-opacity="0.11"/>
<circle cx="59.64" cy="187.4" r="2.0" fill="#00008b" fill-opacity="0.11"/>
<circle cx="67.18" cy="187.3" r="2.0" fill="#00008b" fill-opacity="0.11"/>
<circle cx="74.72" cy="187.1" r="2.0" fill="#00008b" fill-opacity="0.11"/>
<circle cx="82.26" cy="186.8" r="2.0" fill="#00008b" fill-opacity="0.11"/>
<circle cx="89.8" cy="186.4" r="2.0" fill="#00008b" fill-opacity="0.11"/>
<circle cx="97.34" cy="185.9" r="2.0" fill="#00008b" fill-opacity="0.11"/>
<circle cx="101.11" cy="185.6" r="2.0" fill="#00008b" fill-opacity="0.11"/>
<circle cx="104.88" cy="185.3" r="2.0" fill="#00008b" fill-opacity="0.11"/>
<circle cx="108.65" cy="185" r="2.0" fill="#00008b" fill-opacity="0.11"/>
<circle cx="112.42" cy="184.7" r="2.0" fill="#00008b" fill-opacity="0.11"/>
<circle cx="116.19" cy="184.4" r="2.0" fill="#00008b" fill-opacity="0.11"/>
<circle cx="119.96" cy="184.1" r="2.0" fill="#00008b" fill-opacity="0.11"/>
<circle cx="123.73" cy="183.8" r="2.0" fill="#00008b" fill-opacity="0.11"/>
<circle cx="127.5" cy="183.6" r="2.0" fill="#00008b" fill-opacity="0.11"/>
<circle cx="131.27" cy="183.4" r="2.0" fill="#00008b" fill-opacity="0.11"/>
<circle cx="135.04" cy="183.3" r="2.0" fill="#00008b" fill-opacity="0.11"/>
<circle cx="138.81" cy="183.2" r="2.0" fill="#00008b" fill-opacity="0.11"/>
<circle cx="142.58" cy="183.1" r="2.0" fill="#00008b" fill-opacity="0.11"/>
<circle cx="146.35" cy="183" r="2.0" fill="#00008b" fill-opacity="0.11"/>
<circle cx="150.12" cy="183" r="2.0" fill="#00008b" fill-opacity="0.11"/>
<polyline points="44.56,196.5 52.1,196.4 59.64,196.3 67.18,196.2 74.72,196.1 82.26,196 89.8,195.9 97.34,195.8 101.11,195.7 104.88,195.6 108.65,195.5 112.42,195.4 116.19,195.3 119.96,195.2 123.73,195.1 127.5,195 131.27,195 135.04,195 138.81,195 142.58,195 146.35,195 150.12,195" fill="none" stroke="#00008b" stroke-width="1.4" stroke-linejoin="round" stroke-opacity="0.07"/>
<circle cx="44.56" cy="196.5" r="2.0" fill="#00008b" fill-opacity="0.11"/>
<circle cx="52.1" cy="196.4" r="2.0" fill="#00008b" fill-opacity="0.11"/>
<circle cx="59.64" cy="196.3" r="2.0" fill="#00008b" fill-opacity="0.11"/>
<circle cx="67.18" cy="196.2" r="2.0" fill="#00008b" fill-opacity="0.11"/>
<circle cx="74.72" cy="196.1" r="2.0" fill="#00008b" fill-opacity="0.11"/>
<circle cx="82.26" cy="196" r="2.0" fill="#00008b" fill-opacity="0.11"/>
<circle cx="89.8" cy="195.9" r="2.0" fill="#00008b" fill-opacity="0.11"/>
<circle cx="97.34" cy="195.8" r="2.0" fill="#00008b" fill-opacity="0.11"/>
<circle cx="101.11" cy="195.7" r="2.0" fill="#00008b" fill-opacity="0.11"/>
<circle cx="104.88" cy="195.6" r="2.0" fill="#00008b" fill-opacity="0.11"/>
<circle cx="108.65" cy="195.5" r="2.0" fill="#00008b" fill-opacity="0.11"/>
<circle cx="112.42" cy="195.4" r="2.0" fill="#00008b" fill-opacity="0.11"/>
<circle cx="116.19" cy="195.3" r="2.0" fill="#00008b" fill-opacity="0.11"/>
<circle cx="119.96" cy="195.2" r="2.0" fill="#00008b" fill-opacity="0.11"/>
<circle cx="123.73" cy="195.1" r="2.0" fill="#00008b" fill-opacity="0.11"/>
<circle cx="127.5" cy="195" r="2.0" fill="#00008b" fill-opacity="0.11"/>
<circle cx="131.27" cy="195" r="2.0" fill="#00008b" fill-opacity="0.11"/>
<circle cx="135.04" cy="195" r="2.0" fill="#00008b" fill-opacity="0.11"/>
<circle cx="138.81" cy="195" r="2.0" fill="#00008b" fill-opacity="0.11"/>
<circle cx="142.58" cy="195" r="2.0" fill="#00008b" fill-opacity="0.11"/>
<circle cx="146.35" cy="195" r="2.0" fill="#00008b" fill-opacity="0.11"/>
<circle cx="150.12" cy="195" r="2.0" fill="#00008b" fill-opacity="0.11"/>
<polyline points="44.56,199.3 52.1,199.3 59.64,199.3 67.18,199.3 74.72,199.3 82.26,199.2 89.8,199.2 97.34,199.2 101.11,199.1 104.88,199.1 108.65,199.1 112.42,199.1 116.19,199 119.96,199 123.73,199 127.5,199 131.27,199 135.04,199 138.81,199 142.58,199 146.35,199 150.12,199" fill="none" stroke="#ff0000" stroke-width="1.4" stroke-linejoin="round" stroke-opacity="0.07"/>
<circle cx="44.56" cy="199.3" r="2.0" fill="#ff0000" fill-opacity="0.11"/>
<circle cx="52.1" cy="199.3" r="2.0" fill="#ff0000" fill-opacity="0.11"/>
<circle cx="59.64" cy="199.3" r="2.0" fill="#ff0000" fill-opacity="0.11"/>
<circle cx="67.18" cy="199.3" r="2.0" fill="#ff0000" fill-opacity="0.11"/>
<circle cx="74.72" cy="199.3" r="2.0" fill="#ff0000" fill-opacity="0.11"/>
<circle cx="82.26" cy="199.2" r="2.0" fill="#ff0000" fill-opacity="0.11"/>
<circle cx="89.8" cy="199.2" r="2.0" fill="#ff0000" fill-opacity="0.11"/>
<circle cx="97.34" cy="199.2" r="2.0" fill="#ff0000" fill-opacity="0.11"/>
<circle cx="101.11" cy="199.1" r="2.0" fill="#ff0000" fill-opacity="0.11"/>
<circle cx="104.88" cy="199.1" r="2.0" fill="#ff0000" fill-opacity="0.11"/>
<circle cx="108.65" cy="199.1" r="2.0" fill="#ff0000" fill-opacity="0.11"/>
<circle cx="112.42" cy="199.1" r="2.0" fill="#ff0000" fill-opacity="0.11"/>
<circle cx="116.19" cy="199" r="2.0" fill="#ff0000" fill-opacity="0.11"/>
<circle cx="119.96" cy="199" r="2.0" fill="#ff0000" fill-opacity="0.11"/>
<circle cx="123.73" cy="199" r="2.0" fill="#ff0000" fill-opacity="0.11"/>
<circle cx="127.5" cy="199" r="2.0" fill="#ff0000" fill-opacity="0.11"/>
<circle cx="131.27" cy="199" r="2.0" fill="#ff0000" fill-opacity="0.11"/>
<circle cx="135.04" cy="199" r="2.0" fill="#ff0000" fill-opacity="0.11"/>
<circle cx="138.81" cy="199" r="2.0" fill="#ff0000" fill-opacity="0.11"/>
<circle cx="142.58" cy="199" r="2.0" fill="#ff0000" fill-opacity="0.11"/>
<circle cx="146.35" cy="199" r="2.0" fill="#ff0000" fill-opacity="0.11"/>
<circle cx="150.12" cy="199" r="2.0" fill="#ff0000" fill-opacity="0.11"/>
<polyline points="44.56,201.2 52.1,201.2 59.64,201.3 67.18,201.3 74.72,201.4 82.26,201.5 89.8,201.6 97.34,201.7 101.11,201.8 104.88,201.9 108.65,202 112.42,202.1 116.19,202.2 119.96,202.3 123.73,202.3 127.5,202.3 131.27,202.3 135.04,202.3 138.81,202.3 142.58,202.3 146.35,202.3 150.12,202.3" fill="none" stroke="#00008b" stroke-width="1.4" stroke-linejoin="round" stroke-opacity="0.07"/>
<circle cx="44.56" cy="201.2" r="2.0" fill="#00008b" fill-opacity="0.11"/>
<circle cx="52.1" cy="201.2" r="2.0" fill="#00008b" fill-opacity="0.11"/>
<circle cx="59.64" cy="201.3" r="2.0" fill="#00008b" fill-opacity="0.11"/>
<circle cx="67.18" cy="201.3" r="2.0" fill="#00008b" fill-opacity="0.11"/>
<circle cx="74.72" cy="201.4" r="2.0" fill="#00008b" fill-opacity="0.11"/>
<circle cx="82.26" cy="201.5" r="2.0" fill="#00008b" fill-opacity="0.11"/>
<circle cx="89.8" cy="201.6" r="2.0" fill="#00008b" fill-opacity="0.11"/>
<circle cx="97.34" cy="201.7" r="2.0" fill="#00008b" fill-opacity="0.11"/>
<circle cx="101.11" cy="201.8" r="2.0" fill="#00008b" fill-opacity="0.11"/>
<circle cx="104.88" cy="201.9" r="2.0" fill="#00008b" fill-opacity="0.11"/>
<circle cx="108.65" cy="202" r="2.0" fill="#00008b" fill-opacity="0.11"/>
<circle cx="112.42" cy="202.1" r="2.0" fill="#00008b" fill-opacity="0.11"/>
<circle cx="116.19" cy="202.2" r="2.0" fill="#00008b" fill-opacity="0.11"/>
<circle cx="119.96" cy="202.3" r="2.0" fill="#00008b" fill-opacity="0.11"/>
<circle cx="123.73" cy="202.3" r="2.0" fill="#00008b" fill-opacity="0.11"/>
<circle cx="127.5" cy="202.3" r="2.0" fill="#00008b" fill-opacity="0.11"/>
<circle cx="131.27" cy="202.3" r="2.0" fill="#00008b" fill-opacity="0.11"/>
<circle cx="135.04" cy="202.3" r="2.0" fill="#00008b" fill-opacity="0.11"/>
<circle cx="138.81" cy="202.3" r="2.0" fill="#00008b" fill-opacity="0.11"/>
<circle cx="142.58" cy="202.3" r="2.0" fill="#00008b" fill-opacity="0.11"/>
<circle cx="146.35" cy="202.3" r="2.0" fill="#00008b" fill-opacity="0.11"/>
<circle cx="150.12" cy="202.3" r="2.0" fill="#00008b" fill-opacity="0.11"/>
<polyline points="44.56,208.3 52.1,208.3 59.64,208.3 67.18,208.2 74.72,208.1 82.26,208 89.8,207.9 97.34,207.8 101.11,207.7 104.88,207.6 108.65,207.5 112.42,207.4 116.19,207.3 119.96,207.2 123.73,207.1 127.5,207 131.27,206.9 135.04,206.8 138.81,206.8 142.58,206.7 146.35,206.7 150.12,206.7" fill="none" stroke="#00008b" stroke-width="1.4" stroke-linejoin="round" stroke-opacity="0.07"/>
<circle cx="44.56" cy="208.3" r="2.0" fill="#00008b" fill-opacity="0.11"/>
<circle cx="52.1" cy="208.3" r="2.0" fill="#00008b" fill-opacity="0.11"/>
<circle cx="59.64" cy="208.3" r="2.0" fill="#00008b" fill-opacity="0.11"/>
<circle cx="67.18" cy="208.2" r="2.0" fill="#00008b" fill-opacity="0.11"/>
<circle cx="74.72" cy="208.1" r="2.0" fill="#00008b" fill-opacity="0.11"/>
<circle cx="82.26" cy="208" r="2.0" fill="#00008b" fill-opacity="0.11"/>
<circle cx="89.8" cy="207.9" r="2.0" fill="#00008b" fill-opacity="0.11"/>
<circle cx="97.34" cy="207.8" r="2.0" fill="#00008b" fill-opacity="0.11"/>
<circle cx="101.11" cy="207.7" r="2.0" fill="#00008b" fill-opacity="0.11"/>
<circle cx="104.88" cy="207.6" r="2.0" fill="#00008b" fill-opacity="0.11"/>
<circle cx="108.65" cy="207.5" r="2.0" fill="#00008b" fill-opacity="0.11"/>
<circle cx="112.42" cy="207.4" r="2.0" fill="#00008b" fill-opacity="0.11"/>
<circle cx="116.19" cy="207.3" r="2.0" fill="#00008b" fill-opacity="0.11"/>
<circle cx="119.96" cy="207.2" r="2.0" fill="#00008b" fill-opacity="0.11"/>
<circle cx="123.73" cy="207.1" r="2.0" fill="#00008b" fill-opacity="0.11"/>
<circle cx="127.5" cy="207" r="2.0" fill="#00008b" fill-opacity="0.11"/>
<circle cx="131.27" cy="206.9" r="2.0" fill="#00008b" fill-opacity="0.11"/>
<circle cx="135.04" cy="206.8" r="2.0" fill="#00008b" fill-opacity="0.11"/>
<circle cx="138.81" cy="206.8" r="2.0" fill="#00008b" fill-opacity="0.11"/>
<circle cx="142.58" cy="206.7" r="2.0" fill="#00008b" fill-opacity="0.11"/>
<circle cx="146.35" cy="206.7" r="2.0" fill="#00008b" fill-opacity="0.11"/>
<circle cx="150.12" cy="206.7" r="2.0" fill="#00008b" fill-opacity="0.11"/>
<polyline points="44.56,209.5 52.1,209.5 59.64,209.5 67.18,209.5 74.72,209.5 82.26,209.5 89.8,209.5 97.34,209.5 101.11,209.5 104.88,209.5 108.65,209.5 112.42,209.5 116.19,209.5 119.96,209.5 123.73,209.5 127.5,209.5 131.27,209.5 135.04,209.5 138.81,209.5 142.58,209.5 146.35,209.5 150.12,209.5" fill="none" stroke="#1e90ff" stroke-width="1.4" stroke-linejoin="round" stroke-opacity="0.07"/>
<circle cx="44.56" cy="209.5" r="2.0" fill="#1e90ff" fill-opacity="0.11"/>
<circle cx="52.1" cy="209.5" r="2.0" fill="#1e90ff" fill-opacity="0.11"/>
<circle cx="59.64" cy="209.5" r="2.0" fill="#1e90ff" fill-opacity="0.11"/>
<circle cx="67.18" cy="209.5" r="2.0" fill="#1e90ff" fill-opacity="0.11"/>
<circle cx="74.72" cy="209.5" r="2.0" fill="#1e90ff" fill-opacity="0.11"/>
<circle cx="82.26" cy="209.5" r="2.0" fill="#1e90ff" fill-opacity="0.11"/>
<circle cx="89.8" cy="209.5" r="2.0" fill="#1e90ff" fill-opacity="0.11"/>
<circle cx="97.34" cy="209.5" r="2.0" fill="#1e90ff" fill-opacity="0.11"/>
<circle cx="101.11" cy="209.5" r="2.0" fill="#1e90ff" fill-opacity="0.11"/>
<circle cx="104.88" cy="209.5" r="2.0" fill="#1e90ff" fill-opacity="0.11"/>
<circle cx="108.65" cy="209.5" r="2.0" fill="#1e90ff" fill-opacity="0.11"/>
<circle cx="112.42" cy="209.5" r="2.0" fill="#1e90ff" fill-opacity="0.11"/>
<circle cx="116.19" cy="209.5" r="2.0" fill="#1e90ff" fill-opacity="0.11"/>
<circle cx="119.96" cy="209.5" r="2.0" fill="#1e90ff" fill-opacity="0.11"/>
<circle cx="123.73" cy="209.5" r="2.0" fill="#1e90ff" fill-opacity="0.11"/>
<circle cx="127.5" cy="209.5" r="2.0" fill="#1e90ff" fill-opacity="0.11"/>
<circle cx="131.27" cy="209.5" r="2.0" fill="#1e90ff" fill-opacity="0.11"/>
<circle cx="135.04" cy="209.5" r="2.0" fill="#1e90ff" fill-opacity="0.11"/>
<circle cx="138.81" cy="209.5" r="2.0" fill="#1e90ff" fill-opacity="0.11"/>
<circle cx="142.58" cy="209.5" r="2.0" fill="#1e90ff" fill-opacity="0.11"/>
<circle cx="146.35" cy="209.5" r="2.0" fill="#1e90ff" fill-opacity="0.11"/>
<circle cx="150.12" cy="209.5" r="2.0" fill="#1e90ff" fill-opacity="0.11"/>
<line x1="55.5" y1="242" x2="55.5" y2="236" stroke="#000" stroke-width="1.4"/>
<line x1="55.5" y1="16.5" x2="55.5" y2="22.5" stroke="#000" stroke-width="1.4"/>
<line x1="127.5" y1="242" x2="127.5" y2="236" stroke="#000" stroke-width="1.4"/>
<line x1="127.5" y1="16.5" x2="127.5" y2="22.5" stroke="#000" stroke-width="1.4"/>
<line x1="69.5" y1="242" x2="69.5" y2="238.5" stroke="#000" stroke-width="1.0"/>
<line x1="69.5" y1="16.5" x2="69.5" y2="20" stroke="#000" stroke-width="1.0"/>
<line x1="84.5" y1="242" x2="84.5" y2="238.5" stroke="#000" stroke-width="1.0"/>
<line x1="84.5" y1="16.5" x2="84.5" y2="20" stroke="#000" stroke-width="1.0"/>
<line x1="98.5" y1="242" x2="98.5" y2="238.5" stroke="#000" stroke-width="1.0"/>
<line x1="98.5" y1="16.5" x2="98.5" y2="20" stroke="#000" stroke-width="1.0"/>
<line x1="113.5" y1="242" x2="113.5" y2="238.5" stroke="#000" stroke-width="1.0"/>
<line x1="113.5" y1="16.5" x2="113.5" y2="20" stroke="#000" stroke-width="1.0"/>
<line x1="142.5" y1="242" x2="142.5" y2="238.5" stroke="#000" stroke-width="1.0"/>
<line x1="142.5" y1="16.5" x2="142.5" y2="20" stroke="#000" stroke-width="1.0"/>
<line x1="40" y1="220.5" x2="46" y2="220.5" stroke="#000" stroke-width="1.4"/>
<line x1="155" y1="220.5" x2="149" y2="220.5" stroke="#000" stroke-width="1.4"/>
<line x1="40" y1="182.5" x2="46" y2="182.5" stroke="#000" stroke-width="1.4"/>
<line x1="155" y1="182.5" x2="149" y2="182.5" stroke="#000" stroke-width="1.4"/>
<line x1="40" y1="145.5" x2="46" y2="145.5" stroke="#000" stroke-width="1.4"/>
<line x1="155" y1="145.5" x2="149" y2="145.5" stroke="#000" stroke-width="1.4"/>
<line x1="40" y1="108.5" x2="46" y2="108.5" stroke="#000" stroke-width="1.4"/>
<line x1="155" y1="108.5" x2="149" y2="108.5" stroke="#000" stroke-width="1.4"/>
<line x1="40" y1="71.5" x2="46" y2="71.5" stroke="#000" stroke-width="1.4"/>
<line x1="155" y1="71.5" x2="149" y2="71.5" stroke="#000" stroke-width="1.4"/>
<line x1="40" y1="33.5" x2="46" y2="33.5" stroke="#000" stroke-width="1.4"/>
<line x1="155" y1="33.5" x2="149" y2="33.5" stroke="#000" stroke-width="1.4"/>
<line x1="40" y1="235.5" x2="43.5" y2="235.5" stroke="#000" stroke-width="1.0"/>
<line x1="155" y1="235.5" x2="151.5" y2="235.5" stroke="#000" stroke-width="1.0"/>
<line x1="40" y1="227.5" x2="43.5" y2="227.5" stroke="#000" stroke-width="1.0"/>
<line x1="155" y1="227.5" x2="151.5" y2="227.5" stroke="#000" stroke-width="1.0"/>
<line x1="40" y1="212.5" x2="43.5" y2="212.5" stroke="#000" stroke-width="1.0"/>
<line x1="155" y1="212.5" x2="151.5" y2="212.5" stroke="#000" stroke-width="1.0"/>
<line x1="40" y1="205.5" x2="43.5" y2="205.5" stroke="#000" stroke-width="1.0"/>
<line x1="155" y1="205.5" x2="151.5" y2="205.5" stroke="#000" stroke-width="1.0"/>
<line x1="40" y1="197.5" x2="43.5" y2="197.5" stroke="#000" stroke-width="1.0"/>
<line x1="155" y1="197.5" x2="151.5" y2="197.5" stroke="#000" stroke-width="1.0"/>
<line x1="40" y1="190.5" x2="43.5" y2="190.5" stroke="#000" stroke-width="1.0"/>
<line x1="155" y1="190.5" x2="151.5" y2="190.5" stroke="#000" stroke-width="1.0"/>
<line x1="40" y1="175.5" x2="43.5" y2="175.5" stroke="#000" stroke-width="1.0"/>
<line x1="155" y1="175.5" x2="151.5" y2="175.5" stroke="#000" stroke-width="1.0"/>
<line x1="40" y1="167.5" x2="43.5" y2="167.5" stroke="#000" stroke-width="1.0"/>
<line x1="155" y1="167.5" x2="151.5" y2="167.5" stroke="#000" stroke-width="1.0"/>
<line x1="40" y1="160.5" x2="43.5" y2="160.5" stroke="#000" stroke-width="1.0"/>
<line x1="155" y1="160.5" x2="151.5" y2="160.5" stroke="#000" stroke-width="1.0"/>
<line x1="40" y1="153.5" x2="43.5" y2="153.5" stroke="#000" stroke-width="1.0"/>
<line x1="155" y1="153.5" x2="151.5" y2="153.5" stroke="#000" stroke-width="1.0"/>
<line x1="40" y1="138.5" x2="43.5" y2="138.5" stroke="#000" stroke-width="1.0"/>
<line x1="155" y1="138.5" x2="151.5" y2="138.5" stroke="#000" stroke-width="1.0"/>
<line x1="40" y1="130.5" x2="43.5" y2="130.5" stroke="#000" stroke-width="1.0"/>
<line x1="155" y1="130.5" x2="151.5" y2="130.5" stroke="#000" stroke-width="1.0"/>
<line x1="40" y1="123.5" x2="43.5" y2="123.5" stroke="#000" stroke-width="1.0"/>
<line x1="155" y1="123.5" x2="151.5" y2="123.5" stroke="#000" stroke-width="1.0"/>
<line x1="40" y1="115.5" x2="43.5" y2="115.5" stroke="#000" stroke-width="1.0"/>
<line x1="155" y1="115.5" x2="151.5" y2="115.5" stroke="#000" stroke-width="1.0"/>
<line x1="40" y1="100.5" x2="43.5" y2="100.5" stroke="#000" stroke-width="1.0"/>
<line x1="155" y1="100.5" x2="151.5" y2="100.5" stroke="#000" stroke-width="1.0"/>
<line x1="40" y1="93.5" x2="43.5" y2="93.5" stroke="#000" stroke-width="1.0"/>
<line x1="155" y1="93.5" x2="151.5" y2="93.5" stroke="#000" stroke-width="1.0"/>
<line x1="40" y1="85.5" x2="43.5" y2="85.5" stroke="#000" stroke-width="1.0"/>
<line x1="155" y1="85.5" x2="151.5" y2="85.5" stroke="#000" stroke-width="1.0"/>
<line x1="40" y1="78.5" x2="43.5" y2="78.5" stroke="#000" stroke-width="1.0"/>
<line x1="155" y1="78.5" x2="151.5" y2="78.5" stroke="#000" stroke-width="1.0"/>
<line x1="40" y1="63.5" x2="43.5" y2="63.5" stroke="#000" stroke-width="1.0"/>
<line x1="155" y1="63.5" x2="151.5" y2="63.5" stroke="#000" stroke-width="1.0"/>
<line x1="40" y1="56.5" x2="43.5" y2="56.5" stroke="#000" stroke-width="1.0"/>
<line x1="155" y1="56.5" x2="151.5" y2="56.5" stroke="#000" stroke-width="1.0"/>
<line x1="40" y1="48.5" x2="43.5" y2="48.5" stroke="#000" stroke-width="1.0"/>
<line x1="155" y1="48.5" x2="151.5" y2="48.5" stroke="#000" stroke-width="1.0"/>
<line x1="40" y1="41.5" x2="43.5" y2="41.5" stroke="#000" stroke-width="1.0"/>
<line x1="155" y1="41.5" x2="151.5" y2="41.5" stroke="#000" stroke-width="1.0"/>
<line x1="40" y1="26.5" x2="43.5" y2="26.5" stroke="#000" stroke-width="1.0"/>
<line x1="155" y1="26.5" x2="151.5" y2="26.5" stroke="#000" stroke-width="1.0"/>
<line x1="40" y1="18.5" x2="43.5" y2="18.5" stroke="#000" stroke-width="1.0"/>
<line x1="155" y1="18.5" x2="151.5" y2="18.5" stroke="#000" stroke-width="1.0"/>
<rect x="40" y="16.5" width="115" height="225.5" fill="none" stroke="#000" stroke-width="1.7"/>
<polyline points="44.56,53.1 52.1,53.6 59.64,54.4 67.18,55.7 74.72,58 82.26,60.9 89.8,64.9 97.34,69.4 101.11,72.4 104.88,74.8 108.65,77.1 112.42,79.3 116.19,80.7 119.96,82.4 123.73,83.6 127.5,84.5 131.27,85.4 135.04,86.2 138.81,86.9 142.58,87.4 146.35,88 150.12,88.5" fill="none" stroke="#ff0000" stroke-width="1.9" stroke-linejoin="round"/>
<circle cx="44.56" cy="53.1" r="1.95" fill="#ff0000"/>
<circle cx="52.1" cy="53.6" r="1.95" fill="#ff0000"/>
<circle cx="59.64" cy="54.4" r="1.95" fill="#ff0000"/>
<circle cx="67.18" cy="55.7" r="1.95" fill="#ff0000"/>
<circle cx="74.72" cy="58" r="1.95" fill="#ff0000"/>
<circle cx="82.26" cy="60.9" r="1.95" fill="#ff0000"/>
<circle cx="89.8" cy="64.9" r="1.95" fill="#ff0000"/>
<circle cx="97.34" cy="69.4" r="1.95" fill="#ff0000"/>
<circle cx="101.11" cy="72.4" r="1.95" fill="#ff0000"/>
<circle cx="104.88" cy="74.8" r="1.95" fill="#ff0000"/>
<circle cx="108.65" cy="77.1" r="1.95" fill="#ff0000"/>
<circle cx="112.42" cy="79.3" r="1.95" fill="#ff0000"/>
<circle cx="116.19" cy="80.7" r="1.95" fill="#ff0000"/>
<circle cx="119.96" cy="82.4" r="1.95" fill="#ff0000"/>
<circle cx="123.73" cy="83.6" r="1.95" fill="#ff0000"/>
<circle cx="127.5" cy="84.5" r="1.95" fill="#ff0000"/>
<circle cx="131.27" cy="85.4" r="1.95" fill="#ff0000"/>
<circle cx="135.04" cy="86.2" r="1.95" fill="#ff0000"/>
<circle cx="138.81" cy="86.9" r="1.95" fill="#ff0000"/>
<circle cx="142.58" cy="87.4" r="1.95" fill="#ff0000"/>
<circle cx="146.35" cy="88" r="1.95" fill="#ff0000"/>
<circle cx="150.12" cy="88.5" r="1.95" fill="#ff0000"/>
<polyline points="44.56,80.2 52.1,82.9 59.64,85.3 67.18,87.5 74.72,89.9 82.26,92 89.8,93.8 97.34,96.2 101.11,97.6 104.88,98.9 108.65,100 112.42,101.2 116.19,102.1 119.96,103 123.73,104.3 127.5,105.4 131.27,106.3 135.04,107.6 138.81,108.5 142.58,109.5 146.35,110.8 150.12,112.4" fill="none" stroke="#00008b" stroke-width="1.9" stroke-linejoin="round"/>
<circle cx="44.56" cy="80.2" r="1.95" fill="#00008b"/>
<circle cx="52.1" cy="82.9" r="1.95" fill="#00008b"/>
<circle cx="59.64" cy="85.3" r="1.95" fill="#00008b"/>
<circle cx="67.18" cy="87.5" r="1.95" fill="#00008b"/>
<circle cx="74.72" cy="89.9" r="1.95" fill="#00008b"/>
<circle cx="82.26" cy="92" r="1.95" fill="#00008b"/>
<circle cx="89.8" cy="93.8" r="1.95" fill="#00008b"/>
<circle cx="97.34" cy="96.2" r="1.95" fill="#00008b"/>
<circle cx="101.11" cy="97.6" r="1.95" fill="#00008b"/>
<circle cx="104.88" cy="98.9" r="1.95" fill="#00008b"/>
<circle cx="108.65" cy="100" r="1.95" fill="#00008b"/>
<circle cx="112.42" cy="101.2" r="1.95" fill="#00008b"/>
<circle cx="116.19" cy="102.1" r="1.95" fill="#00008b"/>
<circle cx="119.96" cy="103" r="1.95" fill="#00008b"/>
<circle cx="123.73" cy="104.3" r="1.95" fill="#00008b"/>
<circle cx="127.5" cy="105.4" r="1.95" fill="#00008b"/>
<circle cx="131.27" cy="106.3" r="1.95" fill="#00008b"/>
<circle cx="135.04" cy="107.6" r="1.95" fill="#00008b"/>
<circle cx="138.81" cy="108.5" r="1.95" fill="#00008b"/>
<circle cx="142.58" cy="109.5" r="1.95" fill="#00008b"/>
<circle cx="146.35" cy="110.8" r="1.95" fill="#00008b"/>
<circle cx="150.12" cy="112.4" r="1.95" fill="#00008b"/>
<polyline points="44.56,122.3 52.1,124 59.64,125.8 67.18,127.6 74.72,129.6 82.26,131.8 89.8,134 97.34,136.7 101.11,138.5 104.88,139.8 108.65,141.2 112.42,142.5 116.19,143.6 119.96,144.5 123.73,145.8 127.5,146.7 131.27,147.6 135.04,148.5 138.81,149.2 142.58,149.9 146.35,150.5 150.12,151.2" fill="none" stroke="#ff0000" stroke-width="1.9" stroke-linejoin="round"/>
<circle cx="44.56" cy="122.3" r="1.95" fill="#ff0000"/>
<circle cx="52.1" cy="124" r="1.95" fill="#ff0000"/>
<circle cx="59.64" cy="125.8" r="1.95" fill="#ff0000"/>
<circle cx="67.18" cy="127.6" r="1.95" fill="#ff0000"/>
<circle cx="74.72" cy="129.6" r="1.95" fill="#ff0000"/>
<circle cx="82.26" cy="131.8" r="1.95" fill="#ff0000"/>
<circle cx="89.8" cy="134" r="1.95" fill="#ff0000"/>
<circle cx="97.34" cy="136.7" r="1.95" fill="#ff0000"/>
<circle cx="101.11" cy="138.5" r="1.95" fill="#ff0000"/>
<circle cx="104.88" cy="139.8" r="1.95" fill="#ff0000"/>
<circle cx="108.65" cy="141.2" r="1.95" fill="#ff0000"/>
<circle cx="112.42" cy="142.5" r="1.95" fill="#ff0000"/>
<circle cx="116.19" cy="143.6" r="1.95" fill="#ff0000"/>
<circle cx="119.96" cy="144.5" r="1.95" fill="#ff0000"/>
<circle cx="123.73" cy="145.8" r="1.95" fill="#ff0000"/>
<circle cx="127.5" cy="146.7" r="1.95" fill="#ff0000"/>
<circle cx="131.27" cy="147.6" r="1.95" fill="#ff0000"/>
<circle cx="135.04" cy="148.5" r="1.95" fill="#ff0000"/>
<circle cx="138.81" cy="149.2" r="1.95" fill="#ff0000"/>
<circle cx="142.58" cy="149.9" r="1.95" fill="#ff0000"/>
<circle cx="146.35" cy="150.5" r="1.95" fill="#ff0000"/>
<circle cx="150.12" cy="151.2" r="1.95" fill="#ff0000"/>
<polyline points="44.56,155 52.1,155.8 59.64,156.7 67.18,157.8 74.72,158.9 82.26,158.4 89.8,157.6 97.34,157.1 101.11,157 104.88,157 108.65,157.1 112.42,157.3 116.19,157.7 119.96,158.4 123.73,159.2 127.5,160 131.27,160.5 135.04,160.9 138.81,161.3 142.58,161.8 146.35,162.2 150.12,162.6" fill="none" stroke="#00008b" stroke-width="1.9" stroke-linejoin="round"/>
<circle cx="44.56" cy="155" r="1.95" fill="#00008b"/>
<circle cx="52.1" cy="155.8" r="1.95" fill="#00008b"/>
<circle cx="59.64" cy="156.7" r="1.95" fill="#00008b"/>
<circle cx="67.18" cy="157.8" r="1.95" fill="#00008b"/>
<circle cx="74.72" cy="158.9" r="1.95" fill="#00008b"/>
<circle cx="82.26" cy="158.4" r="1.95" fill="#00008b"/>
<circle cx="89.8" cy="157.6" r="1.95" fill="#00008b"/>
<circle cx="97.34" cy="157.1" r="1.95" fill="#00008b"/>
<circle cx="101.11" cy="157" r="1.95" fill="#00008b"/>
<circle cx="104.88" cy="157" r="1.95" fill="#00008b"/>
<circle cx="108.65" cy="157.1" r="1.95" fill="#00008b"/>
<circle cx="112.42" cy="157.3" r="1.95" fill="#00008b"/>
<circle cx="116.19" cy="157.7" r="1.95" fill="#00008b"/>
<circle cx="119.96" cy="158.4" r="1.95" fill="#00008b"/>
<circle cx="123.73" cy="159.2" r="1.95" fill="#00008b"/>
<circle cx="127.5" cy="160" r="1.95" fill="#00008b"/>
<circle cx="131.27" cy="160.5" r="1.95" fill="#00008b"/>
<circle cx="135.04" cy="160.9" r="1.95" fill="#00008b"/>
<circle cx="138.81" cy="161.3" r="1.95" fill="#00008b"/>
<circle cx="142.58" cy="161.8" r="1.95" fill="#00008b"/>
<circle cx="146.35" cy="162.2" r="1.95" fill="#00008b"/>
<circle cx="150.12" cy="162.6" r="1.95" fill="#00008b"/>
<polyline points="44.56,164.2 52.1,163.4 59.64,162.3 67.18,161 74.72,160.2 82.26,162.3 89.8,164.3 97.34,167 101.11,168.6 104.88,170.1 108.65,171.4 112.42,173 116.19,174.8 119.96,176.6 123.73,178.4 127.5,180 131.27,181.6 135.04,183 138.81,184.5 142.58,186.2 146.35,187.6 150.12,189" fill="none" stroke="#00008b" stroke-width="1.9" stroke-linejoin="round"/>
<circle cx="44.56" cy="164.2" r="1.95" fill="#00008b"/>
<circle cx="52.1" cy="163.4" r="1.95" fill="#00008b"/>
<circle cx="59.64" cy="162.3" r="1.95" fill="#00008b"/>
<circle cx="67.18" cy="161" r="1.95" fill="#00008b"/>
<circle cx="74.72" cy="160.2" r="1.95" fill="#00008b"/>
<circle cx="82.26" cy="162.3" r="1.95" fill="#00008b"/>
<circle cx="89.8" cy="164.3" r="1.95" fill="#00008b"/>
<circle cx="97.34" cy="167" r="1.95" fill="#00008b"/>
<circle cx="101.11" cy="168.6" r="1.95" fill="#00008b"/>
<circle cx="104.88" cy="170.1" r="1.95" fill="#00008b"/>
<circle cx="108.65" cy="171.4" r="1.95" fill="#00008b"/>
<circle cx="112.42" cy="173" r="1.95" fill="#00008b"/>
<circle cx="116.19" cy="174.8" r="1.95" fill="#00008b"/>
<circle cx="119.96" cy="176.6" r="1.95" fill="#00008b"/>
<circle cx="123.73" cy="178.4" r="1.95" fill="#00008b"/>
<circle cx="127.5" cy="180" r="1.95" fill="#00008b"/>
<circle cx="131.27" cy="181.6" r="1.95" fill="#00008b"/>
<circle cx="135.04" cy="183" r="1.95" fill="#00008b"/>
<circle cx="138.81" cy="184.5" r="1.95" fill="#00008b"/>
<circle cx="142.58" cy="186.2" r="1.95" fill="#00008b"/>
<circle cx="146.35" cy="187.6" r="1.95" fill="#00008b"/>
<circle cx="150.12" cy="189" r="1.95" fill="#00008b"/>
<polyline points="44.56,178.5 52.1,179.1 59.64,179.4 67.18,180 74.72,180.9 82.26,181.8 89.8,183 97.34,184.3 101.11,185.2 104.88,186.1 108.65,187 112.42,187.6 116.19,188.5 119.96,189 123.73,189.7 127.5,190.3 131.27,190.8 135.04,191.4 138.81,192.1 142.58,192.6 146.35,193 150.12,193.3" fill="none" stroke="#ff0000" stroke-width="1.9" stroke-linejoin="round"/>
<circle cx="44.56" cy="178.5" r="1.95" fill="#ff0000"/>
<circle cx="52.1" cy="179.1" r="1.95" fill="#ff0000"/>
<circle cx="59.64" cy="179.4" r="1.95" fill="#ff0000"/>
<circle cx="67.18" cy="180" r="1.95" fill="#ff0000"/>
<circle cx="74.72" cy="180.9" r="1.95" fill="#ff0000"/>
<circle cx="82.26" cy="181.8" r="1.95" fill="#ff0000"/>
<circle cx="89.8" cy="183" r="1.95" fill="#ff0000"/>
<circle cx="97.34" cy="184.3" r="1.95" fill="#ff0000"/>
<circle cx="101.11" cy="185.2" r="1.95" fill="#ff0000"/>
<circle cx="104.88" cy="186.1" r="1.95" fill="#ff0000"/>
<circle cx="108.65" cy="187" r="1.95" fill="#ff0000"/>
<circle cx="112.42" cy="187.6" r="1.95" fill="#ff0000"/>
<circle cx="116.19" cy="188.5" r="1.95" fill="#ff0000"/>
<circle cx="119.96" cy="189" r="1.95" fill="#ff0000"/>
<circle cx="123.73" cy="189.7" r="1.95" fill="#ff0000"/>
<circle cx="127.5" cy="190.3" r="1.95" fill="#ff0000"/>
<circle cx="131.27" cy="190.8" r="1.95" fill="#ff0000"/>
<circle cx="135.04" cy="191.4" r="1.95" fill="#ff0000"/>
<circle cx="138.81" cy="192.1" r="1.95" fill="#ff0000"/>
<circle cx="142.58" cy="192.6" r="1.95" fill="#ff0000"/>
<circle cx="146.35" cy="193" r="1.95" fill="#ff0000"/>
<circle cx="150.12" cy="193.3" r="1.95" fill="#ff0000"/>
<polyline points="44.56,195.7 52.1,195.8 59.64,195.9 67.18,196 74.72,196.2 82.26,196.4 89.8,196.6 97.34,197.5 101.11,198 104.88,198.6 108.65,199.3 112.42,200.2 116.19,201.1 119.96,202 123.73,202.9 127.5,203.6 131.27,205.2 135.04,207.3 138.81,210 142.58,214 146.35,225 150.12,232.5" fill="none" stroke="#00008b" stroke-width="1.9" stroke-linejoin="round"/>
<circle cx="44.56" cy="195.7" r="1.95" fill="#00008b"/>
<circle cx="52.1" cy="195.8" r="1.95" fill="#00008b"/>
<circle cx="59.64" cy="195.9" r="1.95" fill="#00008b"/>
<circle cx="67.18" cy="196" r="1.95" fill="#00008b"/>
<circle cx="74.72" cy="196.2" r="1.95" fill="#00008b"/>
<circle cx="82.26" cy="196.4" r="1.95" fill="#00008b"/>
<circle cx="89.8" cy="196.6" r="1.95" fill="#00008b"/>
<circle cx="97.34" cy="197.5" r="1.95" fill="#00008b"/>
<circle cx="101.11" cy="198" r="1.95" fill="#00008b"/>
<circle cx="104.88" cy="198.6" r="1.95" fill="#00008b"/>
<circle cx="108.65" cy="199.3" r="1.95" fill="#00008b"/>
<circle cx="112.42" cy="200.2" r="1.95" fill="#00008b"/>
<circle cx="116.19" cy="201.1" r="1.95" fill="#00008b"/>
<circle cx="119.96" cy="202" r="1.95" fill="#00008b"/>
<circle cx="123.73" cy="202.9" r="1.95" fill="#00008b"/>
<circle cx="127.5" cy="203.6" r="1.95" fill="#00008b"/>
<circle cx="131.27" cy="205.2" r="1.95" fill="#00008b"/>
<circle cx="135.04" cy="207.3" r="1.95" fill="#00008b"/>
<circle cx="138.81" cy="210" r="1.95" fill="#00008b"/>
<circle cx="142.58" cy="214" r="1.95" fill="#00008b"/>
<circle cx="146.35" cy="225" r="1.95" fill="#00008b"/>
<circle cx="150.12" cy="232.5" r="1.95" fill="#00008b"/>
<polyline points="44.56,220.2 52.1,220.2 59.64,220.2 67.18,220.2 74.72,220.2 82.26,220.2 89.8,220.2 97.34,220.2 101.11,220.2 104.88,220.2 108.65,220.2 112.42,220.2 116.19,220.2 119.96,220.2 123.73,220.2 127.5,220.2 131.27,220.2 135.04,220.2 138.81,220.2 142.58,220.2 146.35,220.2 150.12,220.2" fill="none" stroke="#00008b" stroke-width="1.9" stroke-linejoin="round"/>
<circle cx="44.56" cy="220.2" r="1.95" fill="#00008b"/>
<circle cx="52.1" cy="220.2" r="1.95" fill="#00008b"/>
<circle cx="59.64" cy="220.2" r="1.95" fill="#00008b"/>
<circle cx="67.18" cy="220.2" r="1.95" fill="#00008b"/>
<circle cx="74.72" cy="220.2" r="1.95" fill="#00008b"/>
<circle cx="82.26" cy="220.2" r="1.95" fill="#00008b"/>
<circle cx="89.8" cy="220.2" r="1.95" fill="#00008b"/>
<circle cx="97.34" cy="220.2" r="1.95" fill="#00008b"/>
<circle cx="101.11" cy="220.2" r="1.95" fill="#00008b"/>
<circle cx="104.88" cy="220.2" r="1.95" fill="#00008b"/>
<circle cx="108.65" cy="220.2" r="1.95" fill="#00008b"/>
<circle cx="112.42" cy="220.2" r="1.95" fill="#00008b"/>
<circle cx="116.19" cy="220.2" r="1.95" fill="#00008b"/>
<circle cx="119.96" cy="220.2" r="1.95" fill="#00008b"/>
<circle cx="123.73" cy="220.2" r="1.95" fill="#00008b"/>
<circle cx="127.5" cy="220.2" r="1.95" fill="#00008b"/>
<circle cx="131.27" cy="220.2" r="1.95" fill="#00008b"/>
<circle cx="135.04" cy="220.2" r="1.95" fill="#00008b"/>
<circle cx="138.81" cy="220.2" r="1.95" fill="#00008b"/>
<circle cx="142.58" cy="220.2" r="1.95" fill="#00008b"/>
<circle cx="146.35" cy="220.2" r="1.95" fill="#00008b"/>
<circle cx="150.12" cy="220.2" r="1.95" fill="#00008b"/>
<polyline points="44.56,161.5 52.1,161 59.64,160.5 67.18,160.2 74.72,159.6 82.26,159.1 89.8,158.8 97.34,158.7 101.11,158.6 104.88,158.5 108.65,158.4 112.42,158.3 116.19,158.2 119.96,158.1 123.73,158 127.5,157.9 131.27,157.8 135.04,157.7 138.81,157.6 142.58,157.6 146.35,157.5 150.12,157.5" fill="none" stroke="#ffd700" stroke-width="1.9" stroke-linejoin="round"/>
<circle cx="44.56" cy="161.5" r="1.95" fill="#ffd700"/>
<circle cx="52.1" cy="161" r="1.95" fill="#ffd700"/>
<circle cx="59.64" cy="160.5" r="1.95" fill="#ffd700"/>
<circle cx="67.18" cy="160.2" r="1.95" fill="#ffd700"/>
<circle cx="74.72" cy="159.6" r="1.95" fill="#ffd700"/>
<circle cx="82.26" cy="159.1" r="1.95" fill="#ffd700"/>
<circle cx="89.8" cy="158.8" r="1.95" fill="#ffd700"/>
<circle cx="97.34" cy="158.7" r="1.95" fill="#ffd700"/>
<circle cx="101.11" cy="158.6" r="1.95" fill="#ffd700"/>
<circle cx="104.88" cy="158.5" r="1.95" fill="#ffd700"/>
<circle cx="108.65" cy="158.4" r="1.95" fill="#ffd700"/>
<circle cx="112.42" cy="158.3" r="1.95" fill="#ffd700"/>
<circle cx="116.19" cy="158.2" r="1.95" fill="#ffd700"/>
<circle cx="119.96" cy="158.1" r="1.95" fill="#ffd700"/>
<circle cx="123.73" cy="158" r="1.95" fill="#ffd700"/>
<circle cx="127.5" cy="157.9" r="1.95" fill="#ffd700"/>
<circle cx="131.27" cy="157.8" r="1.95" fill="#ffd700"/>
<circle cx="135.04" cy="157.7" r="1.95" fill="#ffd700"/>
<circle cx="138.81" cy="157.6" r="1.95" fill="#ffd700"/>
<circle cx="142.58" cy="157.6" r="1.95" fill="#ffd700"/>
<circle cx="146.35" cy="157.5" r="1.95" fill="#ffd700"/>
<circle cx="150.12" cy="157.5" r="1.95" fill="#ffd700"/>
<line x1="92.2" y1="29.2" x2="114.6" y2="29.2" stroke="#ff0000" stroke-width="1.9"/>
<circle cx="103.4" cy="29.2" r="1.8" fill="#ff0000"/>
<line x1="92.2" y1="40.88" x2="114.6" y2="40.88" stroke="#1e90ff" stroke-width="1.9"/>
<circle cx="103.4" cy="40.88" r="1.8" fill="#1e90ff"/>
<line x1="92.2" y1="52.56" x2="114.6" y2="52.56" stroke="#ffd700" stroke-width="1.9"/>
<circle cx="103.4" cy="52.56" r="1.8" fill="#ffd700"/>
<line x1="92.2" y1="64.24" x2="114.6" y2="64.24" stroke="#228b22" stroke-width="1.9"/>
<circle cx="103.4" cy="64.24" r="1.8" fill="#228b22"/>
<line x1="92.2" y1="75.92" x2="114.6" y2="75.92" stroke="#00008b" stroke-width="1.9"/>
<circle cx="103.4" cy="75.92" r="1.8" fill="#00008b"/>
<line x1="242.5" y1="242" x2="242.5" y2="236" stroke="#000" stroke-width="1.4"/>
<line x1="242.5" y1="16.5" x2="242.5" y2="22.5" stroke="#000" stroke-width="1.4"/>
<line x1="310.5" y1="242" x2="310.5" y2="236" stroke="#000" stroke-width="1.4"/>
<line x1="310.5" y1="16.5" x2="310.5" y2="22.5" stroke="#000" stroke-width="1.4"/>
<line x1="229.5" y1="242" x2="229.5" y2="238.5" stroke="#000" stroke-width="1.0"/>
<line x1="229.5" y1="16.5" x2="229.5" y2="20" stroke="#000" stroke-width="1.0"/>
<line x1="256.5" y1="242" x2="256.5" y2="238.5" stroke="#000" stroke-width="1.0"/>
<line x1="256.5" y1="16.5" x2="256.5" y2="20" stroke="#000" stroke-width="1.0"/>
<line x1="269.5" y1="242" x2="269.5" y2="238.5" stroke="#000" stroke-width="1.0"/>
<line x1="269.5" y1="16.5" x2="269.5" y2="20" stroke="#000" stroke-width="1.0"/>
<line x1="283.5" y1="242" x2="283.5" y2="238.5" stroke="#000" stroke-width="1.0"/>
<line x1="283.5" y1="16.5" x2="283.5" y2="20" stroke="#000" stroke-width="1.0"/>
<line x1="297.5" y1="242" x2="297.5" y2="238.5" stroke="#000" stroke-width="1.0"/>
<line x1="297.5" y1="16.5" x2="297.5" y2="20" stroke="#000" stroke-width="1.0"/>
<line x1="324.5" y1="242" x2="324.5" y2="238.5" stroke="#000" stroke-width="1.0"/>
<line x1="324.5" y1="16.5" x2="324.5" y2="20" stroke="#000" stroke-width="1.0"/>
<line x1="222" y1="231.5" x2="228" y2="231.5" stroke="#000" stroke-width="1.4"/>
<line x1="337.9" y1="231.5" x2="331.9" y2="231.5" stroke="#000" stroke-width="1.4"/>
<line x1="222" y1="196.5" x2="228" y2="196.5" stroke="#000" stroke-width="1.4"/>
<line x1="337.9" y1="196.5" x2="331.9" y2="196.5" stroke="#000" stroke-width="1.4"/>
<line x1="222" y1="161.5" x2="228" y2="161.5" stroke="#000" stroke-width="1.4"/>
<line x1="337.9" y1="161.5" x2="331.9" y2="161.5" stroke="#000" stroke-width="1.4"/>
<line x1="222" y1="127.5" x2="228" y2="127.5" stroke="#000" stroke-width="1.4"/>
<line x1="337.9" y1="127.5" x2="331.9" y2="127.5" stroke="#000" stroke-width="1.4"/>
<line x1="222" y1="92.5" x2="228" y2="92.5" stroke="#000" stroke-width="1.4"/>
<line x1="337.9" y1="92.5" x2="331.9" y2="92.5" stroke="#000" stroke-width="1.4"/>
<line x1="222" y1="57.5" x2="228" y2="57.5" stroke="#000" stroke-width="1.4"/>
<line x1="337.9" y1="57.5" x2="331.9" y2="57.5" stroke="#000" stroke-width="1.4"/>
<line x1="222" y1="22.5" x2="228" y2="22.5" stroke="#000" stroke-width="1.4"/>
<line x1="337.9" y1="22.5" x2="331.9" y2="22.5" stroke="#000" stroke-width="1.4"/>
<line x1="222" y1="238.5" x2="225.5" y2="238.5" stroke="#000" stroke-width="1.0"/>
<line x1="337.9" y1="238.5" x2="334.4" y2="238.5" stroke="#000" stroke-width="1.0"/>
<line x1="222" y1="224.5" x2="225.5" y2="224.5" stroke="#000" stroke-width="1.0"/>
<line x1="337.9" y1="224.5" x2="334.4" y2="224.5" stroke="#000" stroke-width="1.0"/>
<line x1="222" y1="217.5" x2="225.5" y2="217.5" stroke="#000" stroke-width="1.0"/>
<line x1="337.9" y1="217.5" x2="334.4" y2="217.5" stroke="#000" stroke-width="1.0"/>
<line x1="222" y1="210.5" x2="225.5" y2="210.5" stroke="#000" stroke-width="1.0"/>
<line x1="337.9" y1="210.5" x2="334.4" y2="210.5" stroke="#000" stroke-width="1.0"/>
<line x1="222" y1="203.5" x2="225.5" y2="203.5" stroke="#000" stroke-width="1.0"/>
<line x1="337.9" y1="203.5" x2="334.4" y2="203.5" stroke="#000" stroke-width="1.0"/>
<line x1="222" y1="189.5" x2="225.5" y2="189.5" stroke="#000" stroke-width="1.0"/>
<line x1="337.9" y1="189.5" x2="334.4" y2="189.5" stroke="#000" stroke-width="1.0"/>
<line x1="222" y1="182.5" x2="225.5" y2="182.5" stroke="#000" stroke-width="1.0"/>
<line x1="337.9" y1="182.5" x2="334.4" y2="182.5" stroke="#000" stroke-width="1.0"/>
<line x1="222" y1="175.5" x2="225.5" y2="175.5" stroke="#000" stroke-width="1.0"/>
<line x1="337.9" y1="175.5" x2="334.4" y2="175.5" stroke="#000" stroke-width="1.0"/>
<line x1="222" y1="168.5" x2="225.5" y2="168.5" stroke="#000" stroke-width="1.0"/>
<line x1="337.9" y1="168.5" x2="334.4" y2="168.5" stroke="#000" stroke-width="1.0"/>
<line x1="222" y1="154.5" x2="225.5" y2="154.5" stroke="#000" stroke-width="1.0"/>
<line x1="337.9" y1="154.5" x2="334.4" y2="154.5" stroke="#000" stroke-width="1.0"/>
<line x1="222" y1="147.5" x2="225.5" y2="147.5" stroke="#000" stroke-width="1.0"/>
<line x1="337.9" y1="147.5" x2="334.4" y2="147.5" stroke="#000" stroke-width="1.0"/>
<line x1="222" y1="140.5" x2="225.5" y2="140.5" stroke="#000" stroke-width="1.0"/>
<line x1="337.9" y1="140.5" x2="334.4" y2="140.5" stroke="#000" stroke-width="1.0"/>
<line x1="222" y1="134.5" x2="225.5" y2="134.5" stroke="#000" stroke-width="1.0"/>
<line x1="337.9" y1="134.5" x2="334.4" y2="134.5" stroke="#000" stroke-width="1.0"/>
<line x1="222" y1="120.5" x2="225.5" y2="120.5" stroke="#000" stroke-width="1.0"/>
<line x1="337.9" y1="120.5" x2="334.4" y2="120.5" stroke="#000" stroke-width="1.0"/>
<line x1="222" y1="113.5" x2="225.5" y2="113.5" stroke="#000" stroke-width="1.0"/>
<line x1="337.9" y1="113.5" x2="334.4" y2="113.5" stroke="#000" stroke-width="1.0"/>
<line x1="222" y1="106.5" x2="225.5" y2="106.5" stroke="#000" stroke-width="1.0"/>
<line x1="337.9" y1="106.5" x2="334.4" y2="106.5" stroke="#000" stroke-width="1.0"/>
<line x1="222" y1="99.5" x2="225.5" y2="99.5" stroke="#000" stroke-width="1.0"/>
<line x1="337.9" y1="99.5" x2="334.4" y2="99.5" stroke="#000" stroke-width="1.0"/>
<line x1="222" y1="85.5" x2="225.5" y2="85.5" stroke="#000" stroke-width="1.0"/>
<line x1="337.9" y1="85.5" x2="334.4" y2="85.5" stroke="#000" stroke-width="1.0"/>
<line x1="222" y1="78.5" x2="225.5" y2="78.5" stroke="#000" stroke-width="1.0"/>
<line x1="337.9" y1="78.5" x2="334.4" y2="78.5" stroke="#000" stroke-width="1.0"/>
<line x1="222" y1="71.5" x2="225.5" y2="71.5" stroke="#000" stroke-width="1.0"/>
<line x1="337.9" y1="71.5" x2="334.4" y2="71.5" stroke="#000" stroke-width="1.0"/>
<line x1="222" y1="64.5" x2="225.5" y2="64.5" stroke="#000" stroke-width="1.0"/>
<line x1="337.9" y1="64.5" x2="334.4" y2="64.5" stroke="#000" stroke-width="1.0"/>
<line x1="222" y1="50.5" x2="225.5" y2="50.5" stroke="#000" stroke-width="1.0"/>
<line x1="337.9" y1="50.5" x2="334.4" y2="50.5" stroke="#000" stroke-width="1.0"/>
<line x1="222" y1="43.5" x2="225.5" y2="43.5" stroke="#000" stroke-width="1.0"/>
<line x1="337.9" y1="43.5" x2="334.4" y2="43.5" stroke="#000" stroke-width="1.0"/>
<line x1="222" y1="36.5" x2="225.5" y2="36.5" stroke="#000" stroke-width="1.0"/>
<line x1="337.9" y1="36.5" x2="334.4" y2="36.5" stroke="#000" stroke-width="1.0"/>
<line x1="222" y1="29.5" x2="225.5" y2="29.5" stroke="#000" stroke-width="1.0"/>
<line x1="337.9" y1="29.5" x2="334.4" y2="29.5" stroke="#000" stroke-width="1.0"/>
<rect x="222" y="16.5" width="115.9" height="225.5" fill="none" stroke="#000" stroke-width="1.7"/>
<polyline points="232.81,105.1 239.88,106.6 246.95,107.5 254.02,107.8 261.1,107.3 268.17,104.8 275.24,100.1 282.31,92.5 285.85,87.4 289.38,81.3 292.92,75.9 296.46,69.9 299.99,63.2 303.53,57.3 307.06,51.4 310.6,45.6 314.14,39.6 317.67,35.1 321.21,30.6 324.74,26.6" fill="none" stroke="#ff0000" stroke-width="1.3" stroke-linejoin="round"/>
<circle cx="232.81" cy="105.1" r="1.9" fill="#ff0000"/>
<circle cx="239.88" cy="106.6" r="1.9" fill="#ff0000"/>
<circle cx="246.95" cy="107.5" r="1.9" fill="#ff0000"/>
<circle cx="254.02" cy="107.8" r="1.9" fill="#ff0000"/>
<circle cx="261.1" cy="107.3" r="1.9" fill="#ff0000"/>
<circle cx="268.17" cy="104.8" r="1.9" fill="#ff0000"/>
<circle cx="275.24" cy="100.1" r="1.9" fill="#ff0000"/>
<circle cx="282.31" cy="92.5" r="1.9" fill="#ff0000"/>
<circle cx="285.85" cy="87.4" r="1.9" fill="#ff0000"/>
<circle cx="289.38" cy="81.3" r="1.9" fill="#ff0000"/>
<circle cx="292.92" cy="75.9" r="1.9" fill="#ff0000"/>
<circle cx="296.46" cy="69.9" r="1.9" fill="#ff0000"/>
<circle cx="299.99" cy="63.2" r="1.9" fill="#ff0000"/>
<circle cx="303.53" cy="57.3" r="1.9" fill="#ff0000"/>
<circle cx="307.06" cy="51.4" r="1.9" fill="#ff0000"/>
<circle cx="310.6" cy="45.6" r="1.9" fill="#ff0000"/>
<circle cx="314.14" cy="39.6" r="1.9" fill="#ff0000"/>
<circle cx="317.67" cy="35.1" r="1.9" fill="#ff0000"/>
<circle cx="321.21" cy="30.6" r="1.9" fill="#ff0000"/>
<circle cx="324.74" cy="26.6" r="1.9" fill="#ff0000"/>
<polyline points="232.81,232.4 239.88,229.7 246.95,227 254.02,223.8 261.1,219.8 268.17,214.7 275.24,208 282.31,198.7 285.85,193.2 289.38,187.5 292.92,181.5 296.46,176 299.99,170 303.53,164 307.06,158.5 310.6,153.7 314.14,148.7 317.67,144.4 321.21,139.7 324.74,135.3" fill="none" stroke="#ff0000" stroke-width="1.3" stroke-linejoin="round"/>
<circle cx="232.81" cy="232.4" r="1.9" fill="#ff0000"/>
<circle cx="239.88" cy="229.7" r="1.9" fill="#ff0000"/>
<circle cx="246.95" cy="227" r="1.9" fill="#ff0000"/>
<circle cx="254.02" cy="223.8" r="1.9" fill="#ff0000"/>
<circle cx="261.1" cy="219.8" r="1.9" fill="#ff0000"/>
<circle cx="268.17" cy="214.7" r="1.9" fill="#ff0000"/>
<circle cx="275.24" cy="208" r="1.9" fill="#ff0000"/>
<circle cx="282.31" cy="198.7" r="1.9" fill="#ff0000"/>
<circle cx="285.85" cy="193.2" r="1.9" fill="#ff0000"/>
<circle cx="289.38" cy="187.5" r="1.9" fill="#ff0000"/>
<circle cx="292.92" cy="181.5" r="1.9" fill="#ff0000"/>
<circle cx="296.46" cy="176" r="1.9" fill="#ff0000"/>
<circle cx="299.99" cy="170" r="1.9" fill="#ff0000"/>
<circle cx="303.53" cy="164" r="1.9" fill="#ff0000"/>
<circle cx="307.06" cy="158.5" r="1.9" fill="#ff0000"/>
<circle cx="310.6" cy="153.7" r="1.9" fill="#ff0000"/>
<circle cx="314.14" cy="148.7" r="1.9" fill="#ff0000"/>
<circle cx="317.67" cy="144.4" r="1.9" fill="#ff0000"/>
<circle cx="321.21" cy="139.7" r="1.9" fill="#ff0000"/>
<circle cx="324.74" cy="135.3" r="1.9" fill="#ff0000"/>
<polyline points="232.81,157.5 239.88,157.6 246.95,157.8 254.02,158.2 261.1,158.7 268.17,159.8 275.24,161.6 282.31,163.6 285.85,165.2 289.38,166.7 292.92,167.9 296.46,169.4 299.99,170.6 303.53,171.7 307.06,172.6 310.6,173.5 314.14,174.4 317.67,175.1 321.21,175.9 324.74,176.6" fill="none" stroke="#000000" stroke-width="1.3" stroke-linejoin="round"/>
<circle cx="232.81" cy="157.5" r="1.9" fill="#000000"/>
<circle cx="239.88" cy="157.6" r="1.9" fill="#000000"/>
<circle cx="246.95" cy="157.8" r="1.9" fill="#000000"/>
<circle cx="254.02" cy="158.2" r="1.9" fill="#000000"/>
<circle cx="261.1" cy="158.7" r="1.9" fill="#000000"/>
<circle cx="268.17" cy="159.8" r="1.9" fill="#000000"/>
<circle cx="275.24" cy="161.6" r="1.9" fill="#000000"/>
<circle cx="282.31" cy="163.6" r="1.9" fill="#000000"/>
<circle cx="285.85" cy="165.2" r="1.9" fill="#000000"/>
<circle cx="289.38" cy="166.7" r="1.9" fill="#000000"/>
<circle cx="292.92" cy="167.9" r="1.9" fill="#000000"/>
<circle cx="296.46" cy="169.4" r="1.9" fill="#000000"/>
<circle cx="299.99" cy="170.6" r="1.9" fill="#000000"/>
<circle cx="303.53" cy="171.7" r="1.9" fill="#000000"/>
<circle cx="307.06" cy="172.6" r="1.9" fill="#000000"/>
<circle cx="310.6" cy="173.5" r="1.9" fill="#000000"/>
<circle cx="314.14" cy="174.4" r="1.9" fill="#000000"/>
<circle cx="317.67" cy="175.1" r="1.9" fill="#000000"/>
<circle cx="321.21" cy="175.9" r="1.9" fill="#000000"/>
<circle cx="324.74" cy="176.6" r="1.9" fill="#000000"/>
<polyline points="232.81,184.2 239.88,184 246.95,183.8 254.02,183.4 261.1,183 268.17,182.5 275.24,182 282.31,181.4 285.85,181.1 289.38,180.9 292.92,180.8 296.46,180.7 299.99,180.7 303.53,180.8 307.06,180.9 310.6,181.1 314.14,181.3 317.67,181.5 321.21,181.7 324.74,182" fill="none" stroke="#ff0000" stroke-width="1.3" stroke-linejoin="round"/>
<circle cx="232.81" cy="184.2" r="1.9" fill="#ff0000"/>
<circle cx="239.88" cy="184" r="1.9" fill="#ff0000"/>
<circle cx="246.95" cy="183.8" r="1.9" fill="#ff0000"/>
<circle cx="254.02" cy="183.4" r="1.9" fill="#ff0000"/>
<circle cx="261.1" cy="183" r="1.9" fill="#ff0000"/>
<circle cx="268.17" cy="182.5" r="1.9" fill="#ff0000"/>
<circle cx="275.24" cy="182" r="1.9" fill="#ff0000"/>
<circle cx="282.31" cy="181.4" r="1.9" fill="#ff0000"/>
<circle cx="285.85" cy="181.1" r="1.9" fill="#ff0000"/>
<circle cx="289.38" cy="180.9" r="1.9" fill="#ff0000"/>
<circle cx="292.92" cy="180.8" r="1.9" fill="#ff0000"/>
<circle cx="296.46" cy="180.7" r="1.9" fill="#ff0000"/>
<circle cx="299.99" cy="180.7" r="1.9" fill="#ff0000"/>
<circle cx="303.53" cy="180.8" r="1.9" fill="#ff0000"/>
<circle cx="307.06" cy="180.9" r="1.9" fill="#ff0000"/>
<circle cx="310.6" cy="181.1" r="1.9" fill="#ff0000"/>
<circle cx="314.14" cy="181.3" r="1.9" fill="#ff0000"/>
<circle cx="317.67" cy="181.5" r="1.9" fill="#ff0000"/>
<circle cx="321.21" cy="181.7" r="1.9" fill="#ff0000"/>
<circle cx="324.74" cy="182" r="1.9" fill="#ff0000"/>
<line x1="411.5" y1="242.2" x2="411.5" y2="236.2" stroke="#000" stroke-width="1.4"/>
<line x1="411.5" y1="16.5" x2="411.5" y2="22.5" stroke="#000" stroke-width="1.4"/>
<line x1="479.5" y1="242.2" x2="479.5" y2="236.2" stroke="#000" stroke-width="1.4"/>
<line x1="479.5" y1="16.5" x2="479.5" y2="22.5" stroke="#000" stroke-width="1.4"/>
<line x1="397.5" y1="242.2" x2="397.5" y2="238.7" stroke="#000" stroke-width="1.0"/>
<line x1="397.5" y1="16.5" x2="397.5" y2="20" stroke="#000" stroke-width="1.0"/>
<line x1="424.5" y1="242.2" x2="424.5" y2="238.7" stroke="#000" stroke-width="1.0"/>
<line x1="424.5" y1="16.5" x2="424.5" y2="20" stroke="#000" stroke-width="1.0"/>
<line x1="438.5" y1="242.2" x2="438.5" y2="238.7" stroke="#000" stroke-width="1.0"/>
<line x1="438.5" y1="16.5" x2="438.5" y2="20" stroke="#000" stroke-width="1.0"/>
<line x1="452.5" y1="242.2" x2="452.5" y2="238.7" stroke="#000" stroke-width="1.0"/>
<line x1="452.5" y1="16.5" x2="452.5" y2="20" stroke="#000" stroke-width="1.0"/>
<line x1="465.5" y1="242.2" x2="465.5" y2="238.7" stroke="#000" stroke-width="1.0"/>
<line x1="465.5" y1="16.5" x2="465.5" y2="20" stroke="#000" stroke-width="1.0"/>
<line x1="493.5" y1="242.2" x2="493.5" y2="238.7" stroke="#000" stroke-width="1.0"/>
<line x1="493.5" y1="16.5" x2="493.5" y2="20" stroke="#000" stroke-width="1.0"/>
<line x1="391" y1="234.5" x2="397" y2="234.5" stroke="#000" stroke-width="1.4"/>
<line x1="506.8" y1="234.5" x2="500.8" y2="234.5" stroke="#000" stroke-width="1.4"/>
<line x1="391" y1="200.5" x2="397" y2="200.5" stroke="#000" stroke-width="1.4"/>
<line x1="506.8" y1="200.5" x2="500.8" y2="200.5" stroke="#000" stroke-width="1.4"/>
<line x1="391" y1="166.5" x2="397" y2="166.5" stroke="#000" stroke-width="1.4"/>
<line x1="506.8" y1="166.5" x2="500.8" y2="166.5" stroke="#000" stroke-width="1.4"/>
<line x1="391" y1="132.5" x2="397" y2="132.5" stroke="#000" stroke-width="1.4"/>
<line x1="506.8" y1="132.5" x2="500.8" y2="132.5" stroke="#000" stroke-width="1.4"/>
<line x1="391" y1="98.5" x2="397" y2="98.5" stroke="#000" stroke-width="1.4"/>
<line x1="506.8" y1="98.5" x2="500.8" y2="98.5" stroke="#000" stroke-width="1.4"/>
<line x1="391" y1="63.5" x2="397" y2="63.5" stroke="#000" stroke-width="1.4"/>
<line x1="506.8" y1="63.5" x2="500.8" y2="63.5" stroke="#000" stroke-width="1.4"/>
<line x1="391" y1="29.5" x2="397" y2="29.5" stroke="#000" stroke-width="1.4"/>
<line x1="506.8" y1="29.5" x2="500.8" y2="29.5" stroke="#000" stroke-width="1.4"/>
<line x1="391" y1="227.5" x2="394.5" y2="227.5" stroke="#000" stroke-width="1.0"/>
<line x1="506.8" y1="227.5" x2="503.3" y2="227.5" stroke="#000" stroke-width="1.0"/>
<line x1="391" y1="220.5" x2="394.5" y2="220.5" stroke="#000" stroke-width="1.0"/>
<line x1="506.8" y1="220.5" x2="503.3" y2="220.5" stroke="#000" stroke-width="1.0"/>
<line x1="391" y1="213.5" x2="394.5" y2="213.5" stroke="#000" stroke-width="1.0"/>
<line x1="506.8" y1="213.5" x2="503.3" y2="213.5" stroke="#000" stroke-width="1.0"/>
<line x1="391" y1="207.5" x2="394.5" y2="207.5" stroke="#000" stroke-width="1.0"/>
<line x1="506.8" y1="207.5" x2="503.3" y2="207.5" stroke="#000" stroke-width="1.0"/>
<line x1="391" y1="193.5" x2="394.5" y2="193.5" stroke="#000" stroke-width="1.0"/>
<line x1="506.8" y1="193.5" x2="503.3" y2="193.5" stroke="#000" stroke-width="1.0"/>
<line x1="391" y1="186.5" x2="394.5" y2="186.5" stroke="#000" stroke-width="1.0"/>
<line x1="506.8" y1="186.5" x2="503.3" y2="186.5" stroke="#000" stroke-width="1.0"/>
<line x1="391" y1="179.5" x2="394.5" y2="179.5" stroke="#000" stroke-width="1.0"/>
<line x1="506.8" y1="179.5" x2="503.3" y2="179.5" stroke="#000" stroke-width="1.0"/>
<line x1="391" y1="173.5" x2="394.5" y2="173.5" stroke="#000" stroke-width="1.0"/>
<line x1="506.8" y1="173.5" x2="503.3" y2="173.5" stroke="#000" stroke-width="1.0"/>
<line x1="391" y1="159.5" x2="394.5" y2="159.5" stroke="#000" stroke-width="1.0"/>
<line x1="506.8" y1="159.5" x2="503.3" y2="159.5" stroke="#000" stroke-width="1.0"/>
<line x1="391" y1="152.5" x2="394.5" y2="152.5" stroke="#000" stroke-width="1.0"/>
<line x1="506.8" y1="152.5" x2="503.3" y2="152.5" stroke="#000" stroke-width="1.0"/>
<line x1="391" y1="145.5" x2="394.5" y2="145.5" stroke="#000" stroke-width="1.0"/>
<line x1="506.8" y1="145.5" x2="503.3" y2="145.5" stroke="#000" stroke-width="1.0"/>
<line x1="391" y1="138.5" x2="394.5" y2="138.5" stroke="#000" stroke-width="1.0"/>
<line x1="506.8" y1="138.5" x2="503.3" y2="138.5" stroke="#000" stroke-width="1.0"/>
<line x1="391" y1="125.5" x2="394.5" y2="125.5" stroke="#000" stroke-width="1.0"/>
<line x1="506.8" y1="125.5" x2="503.3" y2="125.5" stroke="#000" stroke-width="1.0"/>
<line x1="391" y1="118.5" x2="394.5" y2="118.5" stroke="#000" stroke-width="1.0"/>
<line x1="506.8" y1="118.5" x2="503.3" y2="118.5" stroke="#000" stroke-width="1.0"/>
<line x1="391" y1="111.5" x2="394.5" y2="111.5" stroke="#000" stroke-width="1.0"/>
<line x1="506.8" y1="111.5" x2="503.3" y2="111.5" stroke="#000" stroke-width="1.0"/>
<line x1="391" y1="104.5" x2="394.5" y2="104.5" stroke="#000" stroke-width="1.0"/>
<line x1="506.8" y1="104.5" x2="503.3" y2="104.5" stroke="#000" stroke-width="1.0"/>
<line x1="391" y1="91.5" x2="394.5" y2="91.5" stroke="#000" stroke-width="1.0"/>
<line x1="506.8" y1="91.5" x2="503.3" y2="91.5" stroke="#000" stroke-width="1.0"/>
<line x1="391" y1="84.5" x2="394.5" y2="84.5" stroke="#000" stroke-width="1.0"/>
<line x1="506.8" y1="84.5" x2="503.3" y2="84.5" stroke="#000" stroke-width="1.0"/>
<line x1="391" y1="77.5" x2="394.5" y2="77.5" stroke="#000" stroke-width="1.0"/>
<line x1="506.8" y1="77.5" x2="503.3" y2="77.5" stroke="#000" stroke-width="1.0"/>
<line x1="391" y1="70.5" x2="394.5" y2="70.5" stroke="#000" stroke-width="1.0"/>
<line x1="506.8" y1="70.5" x2="503.3" y2="70.5" stroke="#000" stroke-width="1.0"/>
<line x1="391" y1="57.5" x2="394.5" y2="57.5" stroke="#000" stroke-width="1.0"/>
<line x1="506.8" y1="57.5" x2="503.3" y2="57.5" stroke="#000" stroke-width="1.0"/>
<line x1="391" y1="50.5" x2="394.5" y2="50.5" stroke="#000" stroke-width="1.0"/>
<line x1="506.8" y1="50.5" x2="503.3" y2="50.5" stroke="#000" stroke-width="1.0"/>
<line x1="391" y1="43.5" x2="394.5" y2="43.5" stroke="#000" stroke-width="1.0"/>
<line x1="506.8" y1="43.5" x2="503.3" y2="43.5" stroke="#000" stroke-width="1.0"/>
<line x1="391" y1="36.5" x2="394.5" y2="36.5" stroke="#000" stroke-width="1.0"/>
<line x1="506.8" y1="36.5" x2="503.3" y2="36.5" stroke="#000" stroke-width="1.0"/>
<line x1="391" y1="23.5" x2="394.5" y2="23.5" stroke="#000" stroke-width="1.0"/>
<line x1="506.8" y1="23.5" x2="503.3" y2="23.5" stroke="#000" stroke-width="1.0"/>
<rect x="391" y="16.5" width="115.8" height="225.7" fill="none" stroke="#000" stroke-width="1.7"/>
<polyline points="401.35,169.4 408.46,165.8 415.58,162.1 422.69,157.6 429.8,153.1 436.92,148.2 444.03,141.9 451.15,133.8 454.7,128.3 458.26,122.6 461.82,115.3 465.37,107.6 468.93,98.7 472.49,89.7 476.04,79.9 479.6,69.4 483.16,58.2 486.71,47.9 490.27,37.1 493.83,26.6" fill="none" stroke="#ff0000" stroke-width="1.3" stroke-linejoin="round"/>
<circle cx="401.35" cy="169.4" r="1.9" fill="#ff0000"/>
<circle cx="408.46" cy="165.8" r="1.9" fill="#ff0000"/>
<circle cx="415.58" cy="162.1" r="1.9" fill="#ff0000"/>
<circle cx="422.69" cy="157.6" r="1.9" fill="#ff0000"/>
<circle cx="429.8" cy="153.1" r="1.9" fill="#ff0000"/>
<circle cx="436.92" cy="148.2" r="1.9" fill="#ff0000"/>
<circle cx="444.03" cy="141.9" r="1.9" fill="#ff0000"/>
<circle cx="451.15" cy="133.8" r="1.9" fill="#ff0000"/>
<circle cx="454.7" cy="128.3" r="1.9" fill="#ff0000"/>
<circle cx="458.26" cy="122.6" r="1.9" fill="#ff0000"/>
<circle cx="461.82" cy="115.3" r="1.9" fill="#ff0000"/>
<circle cx="465.37" cy="107.6" r="1.9" fill="#ff0000"/>
<circle cx="468.93" cy="98.7" r="1.9" fill="#ff0000"/>
<circle cx="472.49" cy="89.7" r="1.9" fill="#ff0000"/>
<circle cx="476.04" cy="79.9" r="1.9" fill="#ff0000"/>
<circle cx="479.6" cy="69.4" r="1.9" fill="#ff0000"/>
<circle cx="483.16" cy="58.2" r="1.9" fill="#ff0000"/>
<circle cx="486.71" cy="47.9" r="1.9" fill="#ff0000"/>
<circle cx="490.27" cy="37.1" r="1.9" fill="#ff0000"/>
<circle cx="493.83" cy="26.6" r="1.9" fill="#ff0000"/>
<polyline points="401.35,173 408.46,172.1 415.58,171.2 422.69,169.9 429.8,168.5 436.92,166.7 444.03,164 451.15,160.3 454.7,158 458.26,155.8 461.82,153.7 465.37,151.3 468.93,148.6 472.49,145.9 476.04,143 479.6,140.1 483.16,137.9 486.71,135.6 490.27,132.9 493.83,130.3" fill="none" stroke="#ff0000" stroke-width="1.3" stroke-linejoin="round"/>
<circle cx="401.35" cy="173" r="1.9" fill="#ff0000"/>
<circle cx="408.46" cy="172.1" r="1.9" fill="#ff0000"/>
<circle cx="415.58" cy="171.2" r="1.9" fill="#ff0000"/>
<circle cx="422.69" cy="169.9" r="1.9" fill="#ff0000"/>
<circle cx="429.8" cy="168.5" r="1.9" fill="#ff0000"/>
<circle cx="436.92" cy="166.7" r="1.9" fill="#ff0000"/>
<circle cx="444.03" cy="164" r="1.9" fill="#ff0000"/>
<circle cx="451.15" cy="160.3" r="1.9" fill="#ff0000"/>
<circle cx="454.7" cy="158" r="1.9" fill="#ff0000"/>
<circle cx="458.26" cy="155.8" r="1.9" fill="#ff0000"/>
<circle cx="461.82" cy="153.7" r="1.9" fill="#ff0000"/>
<circle cx="465.37" cy="151.3" r="1.9" fill="#ff0000"/>
<circle cx="468.93" cy="148.6" r="1.9" fill="#ff0000"/>
<circle cx="472.49" cy="145.9" r="1.9" fill="#ff0000"/>
<circle cx="476.04" cy="143" r="1.9" fill="#ff0000"/>
<circle cx="479.6" cy="140.1" r="1.9" fill="#ff0000"/>
<circle cx="483.16" cy="137.9" r="1.9" fill="#ff0000"/>
<circle cx="486.71" cy="135.6" r="1.9" fill="#ff0000"/>
<circle cx="490.27" cy="132.9" r="1.9" fill="#ff0000"/>
<circle cx="493.83" cy="130.3" r="1.9" fill="#ff0000"/>
<polyline points="401.35,232.4 408.46,231.2 415.58,230.1 422.69,228.8 429.8,227.5 436.92,225.6 444.03,221.6 451.15,214 454.7,208.5 458.26,201.2 461.82,193.3 465.37,183.8 468.93,173.5 472.49,162.2 476.04,150.4 479.6,137.9 483.16,124.4 486.71,111.7 490.27,98.3 493.83,84.8" fill="none" stroke="#ff0000" stroke-width="1.3" stroke-linejoin="round"/>
<circle cx="401.35" cy="232.4" r="1.9" fill="#ff0000"/>
<circle cx="408.46" cy="231.2" r="1.9" fill="#ff0000"/>
<circle cx="415.58" cy="230.1" r="1.9" fill="#ff0000"/>
<circle cx="422.69" cy="228.8" r="1.9" fill="#ff0000"/>
<circle cx="429.8" cy="227.5" r="1.9" fill="#ff0000"/>
<circle cx="436.92" cy="225.6" r="1.9" fill="#ff0000"/>
<circle cx="444.03" cy="221.6" r="1.9" fill="#ff0000"/>
<circle cx="451.15" cy="214" r="1.9" fill="#ff0000"/>
<circle cx="454.7" cy="208.5" r="1.9" fill="#ff0000"/>
<circle cx="458.26" cy="201.2" r="1.9" fill="#ff0000"/>
<circle cx="461.82" cy="193.3" r="1.9" fill="#ff0000"/>
<circle cx="465.37" cy="183.8" r="1.9" fill="#ff0000"/>
<circle cx="468.93" cy="173.5" r="1.9" fill="#ff0000"/>
<circle cx="472.49" cy="162.2" r="1.9" fill="#ff0000"/>
<circle cx="476.04" cy="150.4" r="1.9" fill="#ff0000"/>
<circle cx="479.6" cy="137.9" r="1.9" fill="#ff0000"/>
<circle cx="483.16" cy="124.4" r="1.9" fill="#ff0000"/>
<circle cx="486.71" cy="111.7" r="1.9" fill="#ff0000"/>
<circle cx="490.27" cy="98.3" r="1.9" fill="#ff0000"/>
<circle cx="493.83" cy="84.8" r="1.9" fill="#ff0000"/>
<polyline points="401.35,227 408.46,224.3 415.58,221.6 422.69,218.5 429.8,215.6 436.92,212.2 444.03,208 451.15,203.4 454.7,200.6 458.26,197.9 461.82,194.7 465.37,192.1 468.93,189.2 472.49,186.7 476.04,183.5 479.6,180.8 483.16,178.1 486.71,175.3 490.27,172.3 493.83,168.7" fill="none" stroke="#000000" stroke-width="1.3" stroke-linejoin="round"/>
<circle cx="401.35" cy="227" r="1.9" fill="#000000"/>
<circle cx="408.46" cy="224.3" r="1.9" fill="#000000"/>
<circle cx="415.58" cy="221.6" r="1.9" fill="#000000"/>
<circle cx="422.69" cy="218.5" r="1.9" fill="#000000"/>
<circle cx="429.8" cy="215.6" r="1.9" fill="#000000"/>
<circle cx="436.92" cy="212.2" r="1.9" fill="#000000"/>
<circle cx="444.03" cy="208" r="1.9" fill="#000000"/>
<circle cx="451.15" cy="203.4" r="1.9" fill="#000000"/>
<circle cx="454.7" cy="200.6" r="1.9" fill="#000000"/>
<circle cx="458.26" cy="197.9" r="1.9" fill="#000000"/>
<circle cx="461.82" cy="194.7" r="1.9" fill="#000000"/>
<circle cx="465.37" cy="192.1" r="1.9" fill="#000000"/>
<circle cx="468.93" cy="189.2" r="1.9" fill="#000000"/>
<circle cx="472.49" cy="186.7" r="1.9" fill="#000000"/>
<circle cx="476.04" cy="183.5" r="1.9" fill="#000000"/>
<circle cx="479.6" cy="180.8" r="1.9" fill="#000000"/>
<circle cx="483.16" cy="178.1" r="1.9" fill="#000000"/>
<circle cx="486.71" cy="175.3" r="1.9" fill="#000000"/>
<circle cx="490.27" cy="172.3" r="1.9" fill="#000000"/>
<circle cx="493.83" cy="168.7" r="1.9" fill="#000000"/>
<line x1="589.5" y1="242" x2="589.5" y2="236" stroke="#000" stroke-width="1.4"/>
<line x1="589.5" y1="16.5" x2="589.5" y2="22.5" stroke="#000" stroke-width="1.4"/>
<line x1="656.5" y1="242" x2="656.5" y2="236" stroke="#000" stroke-width="1.4"/>
<line x1="656.5" y1="16.5" x2="656.5" y2="22.5" stroke="#000" stroke-width="1.4"/>
<line x1="575.5" y1="242" x2="575.5" y2="238.5" stroke="#000" stroke-width="1.0"/>
<line x1="575.5" y1="16.5" x2="575.5" y2="20" stroke="#000" stroke-width="1.0"/>
<line x1="602.5" y1="242" x2="602.5" y2="238.5" stroke="#000" stroke-width="1.0"/>
<line x1="602.5" y1="16.5" x2="602.5" y2="20" stroke="#000" stroke-width="1.0"/>
<line x1="616.5" y1="242" x2="616.5" y2="238.5" stroke="#000" stroke-width="1.0"/>
<line x1="616.5" y1="16.5" x2="616.5" y2="20" stroke="#000" stroke-width="1.0"/>
<line x1="629.5" y1="242" x2="629.5" y2="238.5" stroke="#000" stroke-width="1.0"/>
<line x1="629.5" y1="16.5" x2="629.5" y2="20" stroke="#000" stroke-width="1.0"/>
<line x1="643.5" y1="242" x2="643.5" y2="238.5" stroke="#000" stroke-width="1.0"/>
<line x1="643.5" y1="16.5" x2="643.5" y2="20" stroke="#000" stroke-width="1.0"/>
<line x1="670.5" y1="242" x2="670.5" y2="238.5" stroke="#000" stroke-width="1.0"/>
<line x1="670.5" y1="16.5" x2="670.5" y2="20" stroke="#000" stroke-width="1.0"/>
<line x1="568.6" y1="231.5" x2="574.6" y2="231.5" stroke="#000" stroke-width="1.4"/>
<line x1="684" y1="231.5" x2="678" y2="231.5" stroke="#000" stroke-width="1.4"/>
<line x1="568.6" y1="179.5" x2="574.6" y2="179.5" stroke="#000" stroke-width="1.4"/>
<line x1="684" y1="179.5" x2="678" y2="179.5" stroke="#000" stroke-width="1.4"/>
<line x1="568.6" y1="126.5" x2="574.6" y2="126.5" stroke="#000" stroke-width="1.4"/>
<line x1="684" y1="126.5" x2="678" y2="126.5" stroke="#000" stroke-width="1.4"/>
<line x1="568.6" y1="74.5" x2="574.6" y2="74.5" stroke="#000" stroke-width="1.4"/>
<line x1="684" y1="74.5" x2="678" y2="74.5" stroke="#000" stroke-width="1.4"/>
<line x1="568.6" y1="22.5" x2="574.6" y2="22.5" stroke="#000" stroke-width="1.4"/>
<line x1="684" y1="22.5" x2="678" y2="22.5" stroke="#000" stroke-width="1.4"/>
<line x1="568.6" y1="221.5" x2="572.1" y2="221.5" stroke="#000" stroke-width="1.0"/>
<line x1="684" y1="221.5" x2="680.5" y2="221.5" stroke="#000" stroke-width="1.0"/>
<line x1="568.6" y1="210.5" x2="572.1" y2="210.5" stroke="#000" stroke-width="1.0"/>
<line x1="684" y1="210.5" x2="680.5" y2="210.5" stroke="#000" stroke-width="1.0"/>
<line x1="568.6" y1="200.5" x2="572.1" y2="200.5" stroke="#000" stroke-width="1.0"/>
<line x1="684" y1="200.5" x2="680.5" y2="200.5" stroke="#000" stroke-width="1.0"/>
<line x1="568.6" y1="189.5" x2="572.1" y2="189.5" stroke="#000" stroke-width="1.0"/>
<line x1="684" y1="189.5" x2="680.5" y2="189.5" stroke="#000" stroke-width="1.0"/>
<line x1="568.6" y1="168.5" x2="572.1" y2="168.5" stroke="#000" stroke-width="1.0"/>
<line x1="684" y1="168.5" x2="680.5" y2="168.5" stroke="#000" stroke-width="1.0"/>
<line x1="568.6" y1="158.5" x2="572.1" y2="158.5" stroke="#000" stroke-width="1.0"/>
<line x1="684" y1="158.5" x2="680.5" y2="158.5" stroke="#000" stroke-width="1.0"/>
<line x1="568.6" y1="147.5" x2="572.1" y2="147.5" stroke="#000" stroke-width="1.0"/>
<line x1="684" y1="147.5" x2="680.5" y2="147.5" stroke="#000" stroke-width="1.0"/>
<line x1="568.6" y1="137.5" x2="572.1" y2="137.5" stroke="#000" stroke-width="1.0"/>
<line x1="684" y1="137.5" x2="680.5" y2="137.5" stroke="#000" stroke-width="1.0"/>
<line x1="568.6" y1="116.5" x2="572.1" y2="116.5" stroke="#000" stroke-width="1.0"/>
<line x1="684" y1="116.5" x2="680.5" y2="116.5" stroke="#000" stroke-width="1.0"/>
<line x1="568.6" y1="105.5" x2="572.1" y2="105.5" stroke="#000" stroke-width="1.0"/>
<line x1="684" y1="105.5" x2="680.5" y2="105.5" stroke="#000" stroke-width="1.0"/>
<line x1="568.6" y1="95.5" x2="572.1" y2="95.5" stroke="#000" stroke-width="1.0"/>
<line x1="684" y1="95.5" x2="680.5" y2="95.5" stroke="#000" stroke-width="1.0"/>
<line x1="568.6" y1="84.5" x2="572.1" y2="84.5" stroke="#000" stroke-width="1.0"/>
<line x1="684" y1="84.5" x2="680.5" y2="84.5" stroke="#000" stroke-width="1.0"/>
<line x1="568.6" y1="63.5" x2="572.1" y2="63.5" stroke="#000" stroke-width="1.0"/>
<line x1="684" y1="63.5" x2="680.5" y2="63.5" stroke="#000" stroke-width="1.0"/>
<line x1="568.6" y1="53.5" x2="572.1" y2="53.5" stroke="#000" stroke-width="1.0"/>
<line x1="684" y1="53.5" x2="680.5" y2="53.5" stroke="#000" stroke-width="1.0"/>
<line x1="568.6" y1="43.5" x2="572.1" y2="43.5" stroke="#000" stroke-width="1.0"/>
<line x1="684" y1="43.5" x2="680.5" y2="43.5" stroke="#000" stroke-width="1.0"/>
<line x1="568.6" y1="32.5" x2="572.1" y2="32.5" stroke="#000" stroke-width="1.0"/>
<line x1="684" y1="32.5" x2="680.5" y2="32.5" stroke="#000" stroke-width="1.0"/>
<rect x="568.6" y="16.5" width="115.4" height="225.5" fill="none" stroke="#000" stroke-width="1.7"/>
<polyline points="579.29,231.6 586.34,231.6 593.39,231.6 600.43,231.6 607.48,231.6 614.52,231.6 621.57,231.6 628.62,231.6 632.14,231.6 635.66,231.6 639.18,231.6 642.71,231.6 646.23,231.6 649.75,231.6 653.28,231.6 656.8,231.6 660.32,231.6 663.85,231.6 667.37,231.6 670.89,231.6" fill="none" stroke="#00008b" stroke-width="1.3" stroke-linejoin="round"/>
<circle cx="579.29" cy="231.6" r="1.9" fill="#00008b"/>
<circle cx="586.34" cy="231.6" r="1.9" fill="#00008b"/>
<circle cx="593.39" cy="231.6" r="1.9" fill="#00008b"/>
<circle cx="600.43" cy="231.6" r="1.9" fill="#00008b"/>
<circle cx="607.48" cy="231.6" r="1.9" fill="#00008b"/>
<circle cx="614.52" cy="231.6" r="1.9" fill="#00008b"/>
<circle cx="621.57" cy="231.6" r="1.9" fill="#00008b"/>
<circle cx="628.62" cy="231.6" r="1.9" fill="#00008b"/>
<circle cx="632.14" cy="231.6" r="1.9" fill="#00008b"/>
<circle cx="635.66" cy="231.6" r="1.9" fill="#00008b"/>
<circle cx="639.18" cy="231.6" r="1.9" fill="#00008b"/>
<circle cx="642.71" cy="231.6" r="1.9" fill="#00008b"/>
<circle cx="646.23" cy="231.6" r="1.9" fill="#00008b"/>
<circle cx="649.75" cy="231.6" r="1.9" fill="#00008b"/>
<circle cx="653.28" cy="231.6" r="1.9" fill="#00008b"/>
<circle cx="656.8" cy="231.6" r="1.9" fill="#00008b"/>
<circle cx="660.32" cy="231.6" r="1.9" fill="#00008b"/>
<circle cx="663.85" cy="231.6" r="1.9" fill="#00008b"/>
<circle cx="667.37" cy="231.6" r="1.9" fill="#00008b"/>
<circle cx="670.89" cy="231.6" r="1.9" fill="#00008b"/>
<polyline points="579.29,231.3 586.34,231.3 593.39,231.3 600.43,231.3 607.48,231.3 614.52,231.3 621.57,231.3 628.62,231.3 632.14,230.5 635.66,230 639.18,229.5 642.71,229 646.23,228.3 649.75,227.8 653.28,227.3 656.8,227 660.32,226.7 663.85,226.5 667.37,226.3 670.89,226.2" fill="none" stroke="#00008b" stroke-width="1.3" stroke-linejoin="round"/>
<circle cx="579.29" cy="231.3" r="1.9" fill="#00008b"/>
<circle cx="586.34" cy="231.3" r="1.9" fill="#00008b"/>
<circle cx="593.39" cy="231.3" r="1.9" fill="#00008b"/>
<circle cx="600.43" cy="231.3" r="1.9" fill="#00008b"/>
<circle cx="607.48" cy="231.3" r="1.9" fill="#00008b"/>
<circle cx="614.52" cy="231.3" r="1.9" fill="#00008b"/>
<circle cx="621.57" cy="231.3" r="1.9" fill="#00008b"/>
<circle cx="628.62" cy="231.3" r="1.9" fill="#00008b"/>
<circle cx="632.14" cy="230.5" r="1.9" fill="#00008b"/>
<circle cx="635.66" cy="230" r="1.9" fill="#00008b"/>
<circle cx="639.18" cy="229.5" r="1.9" fill="#00008b"/>
<circle cx="642.71" cy="229" r="1.9" fill="#00008b"/>
<circle cx="646.23" cy="228.3" r="1.9" fill="#00008b"/>
<circle cx="649.75" cy="227.8" r="1.9" fill="#00008b"/>
<circle cx="653.28" cy="227.3" r="1.9" fill="#00008b"/>
<circle cx="656.8" cy="227" r="1.9" fill="#00008b"/>
<circle cx="660.32" cy="226.7" r="1.9" fill="#00008b"/>
<circle cx="663.85" cy="226.5" r="1.9" fill="#00008b"/>
<circle cx="667.37" cy="226.3" r="1.9" fill="#00008b"/>
<circle cx="670.89" cy="226.2" r="1.9" fill="#00008b"/>
<polyline points="579.29,231.5 586.34,231.4 593.39,231.3 600.43,231.2 607.48,231 614.52,230.8 621.57,230.6 628.62,229.9 632.14,229 635.66,228 639.18,227 642.71,226 646.23,224.6 649.75,223 653.28,221 656.8,217.5 660.32,212 663.85,201.2 667.37,174.4 670.89,26.3" fill="none" stroke="#00008b" stroke-width="1.3" stroke-linejoin="round"/>
<circle cx="579.29" cy="231.5" r="1.9" fill="#00008b"/>
<circle cx="586.34" cy="231.4" r="1.9" fill="#00008b"/>
<circle cx="593.39" cy="231.3" r="1.9" fill="#00008b"/>
<circle cx="600.43" cy="231.2" r="1.9" fill="#00008b"/>
<circle cx="607.48" cy="231" r="1.9" fill="#00008b"/>
<circle cx="614.52" cy="230.8" r="1.9" fill="#00008b"/>
<circle cx="621.57" cy="230.6" r="1.9" fill="#00008b"/>
<circle cx="628.62" cy="229.9" r="1.9" fill="#00008b"/>
<circle cx="632.14" cy="229" r="1.9" fill="#00008b"/>
<circle cx="635.66" cy="228" r="1.9" fill="#00008b"/>
<circle cx="639.18" cy="227" r="1.9" fill="#00008b"/>
<circle cx="642.71" cy="226" r="1.9" fill="#00008b"/>
<circle cx="646.23" cy="224.6" r="1.9" fill="#00008b"/>
<circle cx="649.75" cy="223" r="1.9" fill="#00008b"/>
<circle cx="653.28" cy="221" r="1.9" fill="#00008b"/>
<circle cx="656.8" cy="217.5" r="1.9" fill="#00008b"/>
<circle cx="660.32" cy="212" r="1.9" fill="#00008b"/>
<circle cx="663.85" cy="201.2" r="1.9" fill="#00008b"/>
<circle cx="667.37" cy="174.4" r="1.9" fill="#00008b"/>
<circle cx="670.89" cy="26.3" r="1.9" fill="#00008b"/>
<g style="filter:grayscale(1)">
<text x="119.73" y="31.4" font-size="11.3" text-anchor="middle">&#915;</text>
<text x="125.35" y="33.2" font-size="8.36" text-anchor="middle">1</text>
<text x="129.64" y="31.4" font-size="11.3" text-anchor="middle" transform="translate(0,28.63) scale(1,1.12) translate(0,-28.63)">(</text>
<text x="136.08" y="31.4" font-size="11.3" text-anchor="middle" font-style="italic">A</text>
<text x="142.4" y="33.2" font-size="8.36" text-anchor="middle">1</text>
<text x="146.69" y="31.4" font-size="11.3" text-anchor="middle" transform="translate(0,28.63) scale(1,1.12) translate(0,-28.63)">)</text>
<text x="119.73" y="43.08" font-size="11.3" text-anchor="middle">&#915;</text>
<text x="125.35" y="44.88" font-size="8.36" text-anchor="middle">4</text>
<text x="129.64" y="43.08" font-size="11.3" text-anchor="middle" transform="translate(0,40.31) scale(1,1.12) translate(0,-40.31)">(</text>
<text x="136.08" y="43.08" font-size="11.3" text-anchor="middle" font-style="italic">A</text>
<text x="142.4" y="44.88" font-size="8.36" text-anchor="middle">2</text>
<text x="146.69" y="43.08" font-size="11.3" text-anchor="middle" transform="translate(0,40.31) scale(1,1.12) translate(0,-40.31)">)</text>
<text x="119.73" y="54.76" font-size="11.3" text-anchor="middle">&#915;</text>
<text x="125.35" y="56.56" font-size="8.36" text-anchor="middle">2</text>
<text x="129.64" y="54.76" font-size="11.3" text-anchor="middle" transform="translate(0,51.99) scale(1,1.12) translate(0,-51.99)">(</text>
<text x="136.13" y="54.76" font-size="11.3" text-anchor="middle" font-style="italic">B</text>
<text x="142.51" y="56.56" font-size="8.36" text-anchor="middle">1</text>
<text x="146.79" y="54.76" font-size="11.3" text-anchor="middle" transform="translate(0,51.99) scale(1,1.12) translate(0,-51.99)">)</text>
<text x="119.73" y="66.44" font-size="11.3" text-anchor="middle">&#915;</text>
<text x="125.35" y="68.24" font-size="8.36" text-anchor="middle">3</text>
<text x="129.64" y="66.44" font-size="11.3" text-anchor="middle" transform="translate(0,63.67) scale(1,1.12) translate(0,-63.67)">(</text>
<text x="136.13" y="66.44" font-size="11.3" text-anchor="middle" font-style="italic">B</text>
<text x="142.51" y="68.24" font-size="8.36" text-anchor="middle">2</text>
<text x="146.79" y="66.44" font-size="11.3" text-anchor="middle" transform="translate(0,63.67) scale(1,1.12) translate(0,-63.67)">)</text>
<text x="119.73" y="78.12" font-size="11.3" text-anchor="middle">&#915;</text>
<text x="125.35" y="79.92" font-size="8.36" text-anchor="middle">5</text>
<text x="129.64" y="78.12" font-size="11.3" text-anchor="middle" transform="translate(0,75.35) scale(1,1.12) translate(0,-75.35)">(</text>
<text x="136.01" y="78.12" font-size="11.3" text-anchor="middle" font-style="italic">E</text>
<text x="142.38" y="78.12" font-size="11.3" text-anchor="middle" transform="translate(0,75.35) scale(1,1.12) translate(0,-75.35)">)</text>
<text x="2.02" y="11.6" font-size="15" text-anchor="middle" transform="translate(0,7.92) scale(1,1.12) translate(0,-7.92)">(</text>
<text x="8.68" y="11.6" font-size="15" text-anchor="middle">a</text>
<text x="15.35" y="11.6" font-size="15" text-anchor="middle" transform="translate(0,7.92) scale(1,1.12) translate(0,-7.92)">)</text>
<text x="190.92" y="11.6" font-size="15" text-anchor="middle" transform="translate(0,7.92) scale(1,1.12) translate(0,-7.92)">(</text>
<text x="198" y="11.6" font-size="15" text-anchor="middle">b</text>
<text x="205.09" y="11.6" font-size="15" text-anchor="middle" transform="translate(0,7.92) scale(1,1.12) translate(0,-7.92)">)</text>
<text x="357.62" y="11.6" font-size="15" text-anchor="middle" transform="translate(0,7.92) scale(1,1.12) translate(0,-7.92)">(</text>
<text x="363.86" y="11.6" font-size="15" text-anchor="middle">c</text>
<text x="370.11" y="11.6" font-size="15" text-anchor="middle" transform="translate(0,7.92) scale(1,1.12) translate(0,-7.92)">)</text>
<text x="525.62" y="11.6" font-size="15" text-anchor="middle" transform="translate(0,7.92) scale(1,1.12) translate(0,-7.92)">(</text>
<text x="532.71" y="11.6" font-size="15" text-anchor="middle">d</text>
<text x="539.79" y="11.6" font-size="15" text-anchor="middle" transform="translate(0,7.92) scale(1,1.12) translate(0,-7.92)">)</text>
<text x="31.65" y="225.5" font-size="13.39" text-anchor="middle" transform="translate(0,225.5) scale(1,1.1) translate(0,-225.5)">0</text>
<text x="31.65" y="188.2" font-size="13.39" text-anchor="middle" transform="translate(0,188.2) scale(1,1.1) translate(0,-188.2)">5</text>
<text x="25.15" y="150.9" font-size="13.39" text-anchor="middle" transform="translate(0,150.9) scale(1,1.1) translate(0,-150.9)">1</text>
<text x="31.65" y="150.9" font-size="13.39" text-anchor="middle" transform="translate(0,150.9) scale(1,1.1) translate(0,-150.9)">0</text>
<text x="25.15" y="113.6" font-size="13.39" text-anchor="middle" transform="translate(0,113.6) scale(1,1.1) translate(0,-113.6)">1</text>
<text x="31.65" y="113.6" font-size="13.39" text-anchor="middle" transform="translate(0,113.6) scale(1,1.1) translate(0,-113.6)">5</text>
<text x="25.15" y="76.3" font-size="13.39" text-anchor="middle" transform="translate(0,76.3) scale(1,1.1) translate(0,-76.3)">2</text>
<text x="31.65" y="76.3" font-size="13.39" text-anchor="middle" transform="translate(0,76.3) scale(1,1.1) translate(0,-76.3)">0</text>
<text x="25.15" y="39" font-size="13.39" text-anchor="middle" transform="translate(0,39) scale(1,1.1) translate(0,-39)">2</text>
<text x="31.65" y="39" font-size="13.39" text-anchor="middle" transform="translate(0,39) scale(1,1.1) translate(0,-39)">5</text>
<text x="213.65" y="236.9" font-size="13.39" text-anchor="middle" transform="translate(0,236.9) scale(1,1.1) translate(0,-236.9)">0</text>
<text x="213.65" y="202.05" font-size="13.39" text-anchor="middle" transform="translate(0,202.05) scale(1,1.1) translate(0,-202.05)">1</text>
<text x="213.65" y="167.2" font-size="13.39" text-anchor="middle" transform="translate(0,167.2) scale(1,1.1) translate(0,-167.2)">2</text>
<text x="213.65" y="132.35" font-size="13.39" text-anchor="middle" transform="translate(0,132.35) scale(1,1.1) translate(0,-132.35)">3</text>
<text x="213.65" y="97.5" font-size="13.39" text-anchor="middle" transform="translate(0,97.5) scale(1,1.1) translate(0,-97.5)">4</text>
<text x="213.65" y="62.65" font-size="13.39" text-anchor="middle" transform="translate(0,62.65) scale(1,1.1) translate(0,-62.65)">5</text>
<text x="213.65" y="27.8" font-size="13.39" text-anchor="middle" transform="translate(0,27.8) scale(1,1.1) translate(0,-27.8)">6</text>
<rect x="370.85" y="235.55" width="7.09" height="0.73" fill="#000"/>
<text x="382.65" y="239.68" font-size="13.39" text-anchor="middle" transform="translate(0,239.68) scale(1,1.1) translate(0,-239.68)">1</text>
<text x="382.65" y="205.6" font-size="13.39" text-anchor="middle" transform="translate(0,205.6) scale(1,1.1) translate(0,-205.6)">0</text>
<text x="382.65" y="171.52" font-size="13.39" text-anchor="middle" transform="translate(0,171.52) scale(1,1.1) translate(0,-171.52)">1</text>
<text x="382.65" y="137.44" font-size="13.39" text-anchor="middle" transform="translate(0,137.44) scale(1,1.1) translate(0,-137.44)">2</text>
<text x="382.65" y="103.36" font-size="13.39" text-anchor="middle" transform="translate(0,103.36) scale(1,1.1) translate(0,-103.36)">3</text>
<text x="382.65" y="69.28" font-size="13.39" text-anchor="middle" transform="translate(0,69.28) scale(1,1.1) translate(0,-69.28)">4</text>
<text x="382.65" y="35.2" font-size="13.39" text-anchor="middle" transform="translate(0,35.2) scale(1,1.1) translate(0,-35.2)">5</text>
<text x="560.25" y="236.9" font-size="13.39" text-anchor="middle" transform="translate(0,236.9) scale(1,1.1) translate(0,-236.9)">0</text>
<text x="547.25" y="184.52" font-size="13.39" text-anchor="middle" transform="translate(0,184.52) scale(1,1.1) translate(0,-184.52)">1</text>
<text x="553.75" y="184.52" font-size="13.39" text-anchor="middle" transform="translate(0,184.52) scale(1,1.1) translate(0,-184.52)">0</text>
<text x="560.25" y="184.52" font-size="13.39" text-anchor="middle" transform="translate(0,184.52) scale(1,1.1) translate(0,-184.52)">0</text>
<text x="547.25" y="132.14" font-size="13.39" text-anchor="middle" transform="translate(0,132.14) scale(1,1.1) translate(0,-132.14)">2</text>
<text x="553.75" y="132.14" font-size="13.39" text-anchor="middle" transform="translate(0,132.14) scale(1,1.1) translate(0,-132.14)">0</text>
<text x="560.25" y="132.14" font-size="13.39" text-anchor="middle" transform="translate(0,132.14) scale(1,1.1) translate(0,-132.14)">0</text>
<text x="547.25" y="79.76" font-size="13.39" text-anchor="middle" transform="translate(0,79.76) scale(1,1.1) translate(0,-79.76)">3</text>
<text x="553.75" y="79.76" font-size="13.39" text-anchor="middle" transform="translate(0,79.76) scale(1,1.1) translate(0,-79.76)">0</text>
<text x="560.25" y="79.76" font-size="13.39" text-anchor="middle" transform="translate(0,79.76) scale(1,1.1) translate(0,-79.76)">0</text>
<text x="547.25" y="27.38" font-size="13.39" text-anchor="middle" transform="translate(0,27.38) scale(1,1.1) translate(0,-27.38)">4</text>
<text x="553.75" y="27.38" font-size="13.39" text-anchor="middle" transform="translate(0,27.38) scale(1,1.1) translate(0,-27.38)">0</text>
<text x="560.25" y="27.38" font-size="13.39" text-anchor="middle" transform="translate(0,27.38) scale(1,1.1) translate(0,-27.38)">0</text>
<rect x="48.25" y="252.57" width="7.09" height="0.73" fill="#000"/>
<text x="60.06" y="256.7" font-size="13.39" text-anchor="middle" transform="translate(0,256.7) scale(1,1.1) translate(0,-256.7)">5</text>
<text x="127.5" y="256.7" font-size="13.39" text-anchor="middle" transform="translate(0,256.7) scale(1,1.1) translate(0,-256.7)">0</text>
<rect x="235.85" y="252.57" width="7.09" height="0.73" fill="#000"/>
<text x="247.66" y="256.7" font-size="13.39" text-anchor="middle" transform="translate(0,256.7) scale(1,1.1) translate(0,-256.7)">5</text>
<text x="310.6" y="256.7" font-size="13.39" text-anchor="middle" transform="translate(0,256.7) scale(1,1.1) translate(0,-256.7)">0</text>
<rect x="404.45" y="252.57" width="7.09" height="0.73" fill="#000"/>
<text x="416.26" y="256.7" font-size="13.39" text-anchor="middle" transform="translate(0,256.7) scale(1,1.1) translate(0,-256.7)">5</text>
<text x="479.6" y="256.7" font-size="13.39" text-anchor="middle" transform="translate(0,256.7) scale(1,1.1) translate(0,-256.7)">0</text>
<rect x="582.3" y="252.57" width="7.09" height="0.73" fill="#000"/>
<text x="594.11" y="256.7" font-size="13.39" text-anchor="middle" transform="translate(0,256.7) scale(1,1.1) translate(0,-256.7)">5</text>
<text x="656.8" y="256.7" font-size="13.39" text-anchor="middle" transform="translate(0,256.7) scale(1,1.1) translate(0,-256.7)">0</text>
<text x="84.86" y="273.3" font-size="13" text-anchor="middle" font-style="italic">&#951;</text>
<text x="94.95" y="273.3" font-size="13" text-anchor="middle" transform="translate(0,270.12) scale(1,1.12) translate(0,-270.12)">(</text>
<text x="102.9" y="273.3" font-size="13" text-anchor="middle">%</text>
<text x="110.84" y="273.3" font-size="13" text-anchor="middle" transform="translate(0,270.12) scale(1,1.12) translate(0,-270.12)">)</text>
<text x="267.31" y="273.3" font-size="13" text-anchor="middle" font-style="italic">&#951;</text>
<text x="277.4" y="273.3" font-size="13" text-anchor="middle" transform="translate(0,270.12) scale(1,1.12) translate(0,-270.12)">(</text>
<text x="285.34" y="273.3" font-size="13" text-anchor="middle">%</text>
<text x="293.29" y="273.3" font-size="13" text-anchor="middle" transform="translate(0,270.12) scale(1,1.12) translate(0,-270.12)">)</text>
<text x="436.26" y="273.3" font-size="13" text-anchor="middle" font-style="italic">&#951;</text>
<text x="446.35" y="273.3" font-size="13" text-anchor="middle" transform="translate(0,270.12) scale(1,1.12) translate(0,-270.12)">(</text>
<text x="454.29" y="273.3" font-size="13" text-anchor="middle">%</text>
<text x="462.24" y="273.3" font-size="13" text-anchor="middle" transform="translate(0,270.12) scale(1,1.12) translate(0,-270.12)">)</text>
<text x="613.66" y="273.3" font-size="13" text-anchor="middle" font-style="italic">&#951;</text>
<text x="623.75" y="273.3" font-size="13" text-anchor="middle" transform="translate(0,270.12) scale(1,1.12) translate(0,-270.12)">(</text>
<text x="631.69" y="273.3" font-size="13" text-anchor="middle">%</text>
<text x="639.64" y="273.3" font-size="13" text-anchor="middle" transform="translate(0,270.12) scale(1,1.12) translate(0,-270.12)">)</text>
<g transform="translate(10.5,129) rotate(-90)">
<text x="-28.29" y="0" font-size="13.4" text-anchor="middle">2</text>
<text x="-21.1" y="0" font-size="13.4" text-anchor="middle" font-style="italic">&#960;</text>
<text x="-13.09" y="0" font-size="13.4" text-anchor="middle" font-style="italic">&#969;</text>
<text x="-1.86" y="0" font-size="13.4" text-anchor="middle" transform="translate(0,-3.28) scale(1,1.12) translate(0,3.28)">(</text>
<text x="5.59" y="0" font-size="13.4" text-anchor="middle">T</text>
<text x="15.45" y="0" font-size="13.4" text-anchor="middle">H</text>
<text x="23.45" y="0" font-size="13.4" text-anchor="middle">z</text>
<text x="29.03" y="0" font-size="13.4" text-anchor="middle" transform="translate(0,-3.28) scale(1,1.12) translate(0,3.28)">)</text>
</g>
<g transform="translate(199.9,129) rotate(-90)">
<text x="-34.32" y="0" font-size="13.4" text-anchor="middle" font-style="italic">r</text>
<text x="-28.95" y="2" font-size="9.38" text-anchor="middle">3</text>
<text x="-24.26" y="2" font-size="9.38" text-anchor="middle">1</text>
<text x="-14.85" y="0" font-size="13.4" text-anchor="middle" transform="translate(0,-3.28) scale(1,1.12) translate(0,3.28)">(</text>
<text x="-8.52" y="0" font-size="13.4" text-anchor="middle">p</text>
<text x="0.79" y="0" font-size="13.4" text-anchor="middle">m</text>
<text x="8.23" y="0" font-size="13.4" text-anchor="middle">.</text>
<text x="15.12" y="0" font-size="13.4" text-anchor="middle">V</text>
<rect x="21.27" y="-8.18" width="5.11" height="0.53" fill="#000"/>
<text x="29.79" y="-5.2" font-size="9.38" text-anchor="middle">1</text>
<text x="34.74" y="0" font-size="13.4" text-anchor="middle" transform="translate(0,-3.28) scale(1,1.12) translate(0,3.28)">)</text>
</g>
<g transform="translate(367.1,129) rotate(-90)">
<text x="-34.32" y="0" font-size="13.4" text-anchor="middle" font-style="italic">r</text>
<text x="-28.95" y="2" font-size="9.38" text-anchor="middle">3</text>
<text x="-24.26" y="2" font-size="9.38" text-anchor="middle">3</text>
<text x="-14.85" y="0" font-size="13.4" text-anchor="middle" transform="translate(0,-3.28) scale(1,1.12) translate(0,3.28)">(</text>
<text x="-8.52" y="0" font-size="13.4" text-anchor="middle">p</text>
<text x="0.79" y="0" font-size="13.4" text-anchor="middle">m</text>
<text x="8.23" y="0" font-size="13.4" text-anchor="middle">.</text>
<text x="15.12" y="0" font-size="13.4" text-anchor="middle">V</text>
<rect x="21.27" y="-8.18" width="5.11" height="0.53" fill="#000"/>
<text x="29.79" y="-5.2" font-size="9.38" text-anchor="middle">1</text>
<text x="34.74" y="0" font-size="13.4" text-anchor="middle" transform="translate(0,-3.28) scale(1,1.12) translate(0,3.28)">)</text>
</g>
<g transform="translate(535.1,129) rotate(-90)">
<text x="-34.32" y="0" font-size="13.4" text-anchor="middle" font-style="italic">r</text>
<text x="-28.95" y="2" font-size="9.38" text-anchor="middle">4</text>
<text x="-24.26" y="2" font-size="9.38" text-anchor="middle">2</text>
<text x="-14.85" y="0" font-size="13.4" text-anchor="middle" transform="translate(0,-3.28) scale(1,1.12) translate(0,3.28)">(</text>
<text x="-8.52" y="0" font-size="13.4" text-anchor="middle">p</text>
<text x="0.79" y="0" font-size="13.4" text-anchor="middle">m</text>
<text x="8.23" y="0" font-size="13.4" text-anchor="middle">.</text>
<text x="15.12" y="0" font-size="13.4" text-anchor="middle">V</text>
<rect x="21.27" y="-8.18" width="5.11" height="0.53" fill="#000"/>
<text x="29.79" y="-5.2" font-size="9.38" text-anchor="middle">1</text>
<text x="34.74" y="0" font-size="13.4" text-anchor="middle" transform="translate(0,-3.28) scale(1,1.12) translate(0,3.28)">)</text>
</g>
<text x="21.1" y="53.6" font-size="10.2" font-style="italic">A</text>
<text x="28.1" y="57.9" font-size="7" font-style="italic">l</text>
<text x="30.2" y="50.6" font-size="7" font-style="italic">(4)</text>
<text x="21.4" y="122.3" font-size="10.2" font-style="italic">A</text>
<text x="28.4" y="126.6" font-size="7" font-style="italic">l</text>
<text x="30.5" y="119.3" font-size="7" font-style="italic">(3)</text>
<text x="19.7" y="177.7" font-size="10.2" font-style="italic">A</text>
<text x="26.7" y="182" font-size="7" font-style="italic">l</text>
<text x="28.8" y="174.7" font-size="7" font-style="italic">(2)</text>
<text x="317.4" y="45.7" font-size="10.2" font-style="italic">A</text>
<text x="324.4" y="50" font-size="7" font-style="italic">l</text>
<text x="326.5" y="42.7" font-size="7" font-style="italic">(2)</text>
<text x="157.7" y="117.8" font-size="9.8" font-style="italic">E</text>
<text x="163.9" y="114.1" font-size="6.6" font-style="italic">(5)</text>
<text x="157.4" y="165" font-size="9.8" font-style="italic">E</text>
<text x="163.6" y="161.3" font-size="6.6" font-style="italic">(4)</text>
<text x="157.4" y="192.2" font-size="9.8" font-style="italic">E</text>
<text x="163.6" y="188.5" font-size="6.6" font-style="italic">(3)</text>
<text x="158.8" y="237.4" font-size="9.8" font-style="italic">E</text>
<text x="165" y="233.7" font-size="6.6" font-style="italic">(2)</text>
<text x="317.8" y="151.8" font-size="10.2" font-style="italic">A</text>
<text x="324.8" y="156.1" font-size="7" font-style="italic">l</text>
<text x="326.9" y="148.8" font-size="7" font-style="italic">(3)</text>
<text x="317.8" y="193.1" font-size="10.2" font-style="italic">A</text>
<text x="324.8" y="197.4" font-size="7" font-style="italic">l</text>
<text x="326.9" y="190.1" font-size="7" font-style="italic">(4)</text>
<text x="488.1" y="52.7" font-size="10.2" font-style="italic">A</text>
<text x="495.1" y="57" font-size="7" font-style="italic">l</text>
<text x="497.2" y="49.7" font-size="7" font-style="italic">(2)</text>
<text x="488.1" y="120" font-size="10.2" font-style="italic">A</text>
<text x="495.1" y="124.3" font-size="7" font-style="italic">l</text>
<text x="497.2" y="117" font-size="7" font-style="italic">(3)</text>
<text x="488.1" y="142.5" font-size="10.2" font-style="italic">A</text>
<text x="495.1" y="146.8" font-size="7" font-style="italic">l</text>
<text x="497.2" y="139.5" font-size="7" font-style="italic">(4)</text>
<text x="650.8" y="35.8" font-size="9.8" font-style="italic">E</text>
<text x="657" y="32.1" font-size="6.6" font-style="italic">(2)</text>
<text x="665.2" y="223.1" font-size="9.8" font-style="italic">E</text>
<text x="671.4" y="219.4" font-size="6.6" font-style="italic">(3)</text>
</g>
</svg>
</body></html>
